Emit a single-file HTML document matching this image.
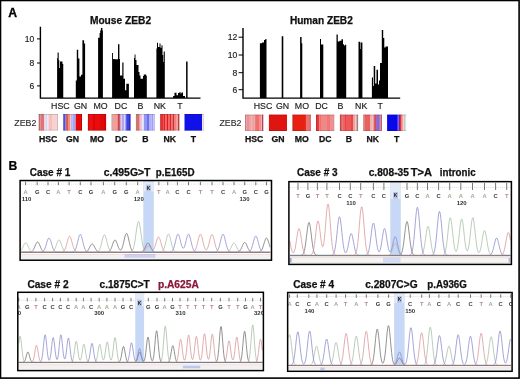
<!DOCTYPE html>
<html><head><meta charset="utf-8"><style>
html,body{margin:0;padding:0;background:#fff;}
svg{display:block;font-family:"Liberation Sans", sans-serif;will-change:transform;}
</style></head><body>
<svg width="520" height="379" viewBox="0 0 520 379">
<rect width="520" height="379" fill="#fff"/>
<text x="8.3" y="17.2" font-size="12.2" font-weight="bold" fill="#000" text-anchor="start" stroke="#000" stroke-width="0.3">A</text>
<text x="89.9" y="23.7" font-size="10" font-weight="bold" fill="#111" stroke="#111" stroke-width="0.25" textLength="61.2" lengthAdjust="spacingAndGlyphs">Mouse ZEB2</text>
<path d="M57.1 98.1V58.1H57.6V98.1ZM57.6 98.1V52.4H58.7V98.1ZM58.7 98.1V60.3H59.3V98.1ZM59.3 98.1V68H60.0V98.1ZM60.0 98.1V61.5H62.5V98.1ZM62.5 98.1V63.9H63.25V98.1ZM75.8 98.1V80.6H76.8V98.1ZM76.8 98.1V49.8H78.2V98.1ZM78.2 98.1V58.5H79.4V98.1ZM79.4 98.1V76.4H81V98.1ZM81 98.1V74.7H82.4V98.1ZM82.4 98.1V40.2H84.1V98.1ZM84.1 98.1V43.5H85.1V98.1ZM98.1 98.1V37.8H99.6V98.1ZM99.6 98.1V33H100.2V98.1ZM100.2 98.1V30.5H100.9V98.1ZM100.9 98.1V28.1H102.4V98.1ZM102.4 98.1V30.5H102.9V98.1ZM112.1 98.1V53H113V98.1ZM113 98.1V59H114.5V98.1ZM114.5 98.1V59.2H118V98.1ZM118 98.1V44.2H119.4V98.1ZM119.4 98.1V59H120V98.1ZM120 98.1V75.6H122.3V98.1ZM122.3 98.1V62.5H123.5V98.1ZM123.5 98.1V78.8H125V98.1ZM125 98.1V90.2H126.3V98.1ZM126.3 98.1V83.7H128.9V98.1ZM134 98.1V58H134.6V98.1ZM134.6 98.1V54.6H135.5V98.1ZM135.5 98.1V60H136.5V98.1ZM136.5 98.1V65H138.5V98.1ZM138.5 98.1V72H139.5V98.1ZM139.5 98.1V75.4H140.5V98.1ZM140.5 98.1V78.8H143V98.1ZM143 98.1V76H143.8V98.1ZM143.8 98.1V74.5H146.3V98.1ZM146.3 98.1V76H146.8V98.1ZM156.4 98.1V48.6H157V98.1ZM157 98.1V42.7H158V98.1ZM158 98.1V47H159.5V98.1ZM159.5 98.1V43.6H160.5V98.1ZM160.5 98.1V47.8H161.5V98.1ZM161.5 98.1V45.3H162.5V98.1ZM162.5 98.1V55H163.2V98.1ZM163.2 98.1V62H163.7V98.1ZM163.7 98.1V51.5H164.8V98.1ZM173.1 98.1V95.9H174.5V98.1ZM174.5 98.1V92.7H176.5V98.1ZM176.5 98.1V95.3H178V98.1ZM178 98.1V93H179.5V98.1ZM179.5 98.1V92H180.5V98.1ZM180.5 98.1V93.6H181.5V98.1ZM181.5 98.1V92.4H183V98.1ZM183 98.1V95.9H185V98.1ZM186.1 98.1V61.5H187.6V98.1Z" fill="#000"/>
<path d="M40.4 26.7V98.1H200.5" fill="none" stroke="#000" stroke-width="1.4"/>
<path d="M37 38.9H40.4" stroke="#000" stroke-width="1"/>
<text x="34.4" y="41.9" font-size="8.6" font-weight="normal" fill="#222" text-anchor="end" stroke="#222" stroke-width="0.15">10</text>
<path d="M37 63H40.4" stroke="#000" stroke-width="1"/>
<text x="34.4" y="66.0" font-size="8.6" font-weight="normal" fill="#222" text-anchor="end" stroke="#222" stroke-width="0.15">8</text>
<path d="M37 85.9H40.4" stroke="#000" stroke-width="1"/>
<text x="34.4" y="88.9" font-size="8.6" font-weight="normal" fill="#222" text-anchor="end" stroke="#222" stroke-width="0.15">6</text>
<text x="60.4" y="109.0" font-size="8.8" font-weight="normal" fill="#1a1a1a" text-anchor="middle" stroke="#1a1a1a" stroke-width="0.15">HSC</text>
<text x="80.5" y="109.0" font-size="8.8" font-weight="normal" fill="#1a1a1a" text-anchor="middle" stroke="#1a1a1a" stroke-width="0.15">GN</text>
<text x="100.6" y="109.0" font-size="8.8" font-weight="normal" fill="#1a1a1a" text-anchor="middle" stroke="#1a1a1a" stroke-width="0.15">MO</text>
<text x="120.9" y="109.0" font-size="8.8" font-weight="normal" fill="#1a1a1a" text-anchor="middle" stroke="#1a1a1a" stroke-width="0.15">DC</text>
<text x="140.5" y="109.0" font-size="8.8" font-weight="normal" fill="#1a1a1a" text-anchor="middle" stroke="#1a1a1a" stroke-width="0.15">B</text>
<text x="159.8" y="109.0" font-size="8.8" font-weight="normal" fill="#1a1a1a" text-anchor="middle" stroke="#1a1a1a" stroke-width="0.15">NK</text>
<text x="180" y="109.0" font-size="8.8" font-weight="normal" fill="#1a1a1a" text-anchor="middle" stroke="#1a1a1a" stroke-width="0.15">T</text>
<text x="289.9" y="23.8" font-size="10" font-weight="bold" fill="#111" stroke="#111" stroke-width="0.25" textLength="62.9" lengthAdjust="spacingAndGlyphs">Human ZEB2</text>
<path d="M259.9 98.1V43.2H262V98.1ZM262 98.1V42.4H264V98.1ZM264 98.1V39.9H265.3V98.1ZM265.3 98.1V38.9H266.5V98.1ZM281.7 98.1V36.3H283.3V98.1ZM300.1 98.1V36.9H301.6V98.1ZM301.6 98.1V43.2H302.3V98.1ZM320 98.1V38.9H321V98.1ZM321 98.1V44.4H323.3V98.1ZM336.5 98.1V34.6H337.8V98.1ZM337.8 98.1V41.4H339.5V98.1ZM339.5 98.1V40.7H341.5V98.1ZM341.5 98.1V39.2H343V98.1ZM343 98.1V44.3H344V98.1ZM344 98.1V45.6H345V98.1ZM345 98.1V44.7H346.2V98.1ZM358.5 98.1V41.8H360.2V98.1ZM360.2 98.1V49H360.7V98.1ZM360.7 98.1V42.5H362.4V98.1ZM371.9 98.1V77.6H373V98.1ZM373 98.1V86H373.7V98.1ZM373.7 98.1V65.9H375.2V98.1ZM375.2 98.1V83.4H376.5V98.1ZM376.5 98.1V69.8H378V98.1ZM378 98.1V84.4H379V98.1ZM379 98.1V80.5H380V98.1ZM380 98.1V63H381.8V98.1ZM381.8 98.1V29.9H383.2V98.1ZM383.2 98.1V38H384.3V98.1ZM384.3 98.1V47.4H385.5V98.1ZM385.5 98.1V46.4H388V98.1Z" fill="#000"/>
<path d="M243 28V98.1H400.2" fill="none" stroke="#000" stroke-width="1.4"/>
<path d="M238.6 37.2H243" stroke="#000" stroke-width="1"/>
<text x="237.2" y="40.2" font-size="8.6" font-weight="normal" fill="#222" text-anchor="end" stroke="#222" stroke-width="0.15">12</text>
<path d="M238.6 55H243" stroke="#000" stroke-width="1"/>
<text x="237.2" y="58.0" font-size="8.6" font-weight="normal" fill="#222" text-anchor="end" stroke="#222" stroke-width="0.15">10</text>
<path d="M238.6 72.7H243" stroke="#000" stroke-width="1"/>
<text x="237.2" y="75.7" font-size="8.6" font-weight="normal" fill="#222" text-anchor="end" stroke="#222" stroke-width="0.15">8</text>
<path d="M238.6 89.7H243" stroke="#000" stroke-width="1"/>
<text x="237.2" y="92.7" font-size="8.6" font-weight="normal" fill="#222" text-anchor="end" stroke="#222" stroke-width="0.15">6</text>
<text x="263" y="109.0" font-size="8.8" font-weight="normal" fill="#1a1a1a" text-anchor="middle" stroke="#1a1a1a" stroke-width="0.15">HSC</text>
<text x="282.5" y="109.0" font-size="8.8" font-weight="normal" fill="#1a1a1a" text-anchor="middle" stroke="#1a1a1a" stroke-width="0.15">GN</text>
<text x="301.9" y="109.0" font-size="8.8" font-weight="normal" fill="#1a1a1a" text-anchor="middle" stroke="#1a1a1a" stroke-width="0.15">MO</text>
<text x="321.5" y="109.0" font-size="8.8" font-weight="normal" fill="#1a1a1a" text-anchor="middle" stroke="#1a1a1a" stroke-width="0.15">DC</text>
<text x="340.5" y="109.0" font-size="8.8" font-weight="normal" fill="#1a1a1a" text-anchor="middle" stroke="#1a1a1a" stroke-width="0.15">B</text>
<text x="361.2" y="109.0" font-size="8.8" font-weight="normal" fill="#1a1a1a" text-anchor="middle" stroke="#1a1a1a" stroke-width="0.15">NK</text>
<text x="380.3" y="109.0" font-size="8.8" font-weight="normal" fill="#1a1a1a" text-anchor="middle" stroke="#1a1a1a" stroke-width="0.15">T</text>
<text x="14.3" y="125.7" font-size="8.8" font-weight="normal" fill="#2a2a2a" text-anchor="start" stroke="#2a2a2a" stroke-width="0.12">ZEB2</text>
<text x="219.5" y="126.0" font-size="8.8" font-weight="normal" fill="#2a2a2a" text-anchor="start" stroke="#2a2a2a" stroke-width="0.12">ZEB2</text>
<rect x="38.7" y="114.0" width="1.80" height="16.60" fill="#b86878"/>
<rect x="40.5" y="114.0" width="3.50" height="16.60" fill="#e07474"/>
<rect x="44" y="114.0" width="1.50" height="16.60" fill="#f4d0d8"/>
<rect x="45.5" y="114.0" width="2.00" height="16.60" fill="#d4d4f8"/>
<rect x="47.5" y="114.0" width="1.00" height="16.60" fill="#f2e8f0"/>
<rect x="48.5" y="114.0" width="3.50" height="16.60" fill="#f4c0c0"/>
<rect x="52" y="114.0" width="5.00" height="16.60" fill="#f8d2d0"/>
<rect x="57" y="114.0" width="0.80" height="16.60" fill="#c8a8a8"/>
<rect x="38.7" y="114.0" width="19.10" height="1" fill="#000" opacity="0.13"/>
<rect x="38.7" y="129.6" width="19.10" height="1" fill="#000" opacity="0.1"/>
<rect x="63.2" y="114.0" width="2.30" height="16.60" fill="#5050d8"/>
<rect x="65.5" y="114.0" width="0.50" height="16.60" fill="#9060a8"/>
<rect x="66" y="114.0" width="2.00" height="16.60" fill="#d06060"/>
<rect x="68" y="114.0" width="2.00" height="16.60" fill="#f09080"/>
<rect x="70" y="114.0" width="1.00" height="16.60" fill="#f8c8c8"/>
<rect x="71" y="114.0" width="1.50" height="16.60" fill="#c0b0f0"/>
<rect x="72.5" y="114.0" width="3.00" height="16.60" fill="#a0a8f8"/>
<rect x="75.5" y="114.0" width="0.50" height="16.60" fill="#d04050"/>
<rect x="76" y="114.0" width="5.00" height="16.60" fill="#e80808"/>
<rect x="81" y="114.0" width="1.00" height="16.60" fill="#c80000"/>
<rect x="63.2" y="114.0" width="18.80" height="1" fill="#000" opacity="0.13"/>
<rect x="63.2" y="129.6" width="18.80" height="1" fill="#000" opacity="0.1"/>
<rect x="87.9" y="114.0" width="1.10" height="16.60" fill="#d00808"/>
<rect x="89" y="114.0" width="4.00" height="16.60" fill="#e81010"/>
<rect x="93" y="114.0" width="2.00" height="16.60" fill="#e00404"/>
<rect x="95" y="114.0" width="5.00" height="16.60" fill="#e80c0c"/>
<rect x="100" y="114.0" width="4.00" height="16.60" fill="#e00808"/>
<rect x="104" y="114.0" width="2.10" height="16.60" fill="#d80404"/>
<rect x="87.9" y="114.0" width="18.20" height="1" fill="#000" opacity="0.13"/>
<rect x="87.9" y="129.6" width="18.20" height="1" fill="#000" opacity="0.1"/>
<rect x="111.7" y="114.0" width="0.80" height="16.60" fill="#a05060"/>
<rect x="112.5" y="114.0" width="4.50" height="16.60" fill="#f0a098"/>
<rect x="117" y="114.0" width="1.00" height="16.60" fill="#f08888"/>
<rect x="118" y="114.0" width="1.50" height="16.60" fill="#d84050"/>
<rect x="119.5" y="114.0" width="1.00" height="16.60" fill="#a02030"/>
<rect x="120.5" y="114.0" width="1.50" height="16.60" fill="#d8c8f4"/>
<rect x="122" y="114.0" width="2.00" height="16.60" fill="#b0a8f0"/>
<rect x="124" y="114.0" width="1.50" height="16.60" fill="#d8d8f8"/>
<rect x="125.5" y="114.0" width="1.50" height="16.60" fill="#6060f0"/>
<rect x="127" y="114.0" width="2.00" height="16.60" fill="#4040e8"/>
<rect x="129" y="114.0" width="1.60" height="16.60" fill="#3030c0"/>
<rect x="111.7" y="114.0" width="18.90" height="1" fill="#000" opacity="0.13"/>
<rect x="111.7" y="129.6" width="18.90" height="1" fill="#000" opacity="0.1"/>
<rect x="135.9" y="114.0" width="3.10" height="16.60" fill="#c87870"/>
<rect x="139" y="114.0" width="1.00" height="16.60" fill="#f0a090"/>
<rect x="140" y="114.0" width="2.00" height="16.60" fill="#f0c0e0"/>
<rect x="142" y="114.0" width="1.50" height="16.60" fill="#f0e8f8"/>
<rect x="143.5" y="114.0" width="0.50" height="16.60" fill="#c8c8f4"/>
<rect x="144" y="114.0" width="3.00" height="16.60" fill="#9098f0"/>
<rect x="147" y="114.0" width="2.00" height="16.60" fill="#7070f0"/>
<rect x="149" y="114.0" width="2.50" height="16.60" fill="#b0b0f8"/>
<rect x="151.5" y="114.0" width="2.00" height="16.60" fill="#a0a0f0"/>
<rect x="153.5" y="114.0" width="1.50" height="16.60" fill="#c0c0f8"/>
<rect x="135.9" y="114.0" width="19.10" height="1" fill="#000" opacity="0.13"/>
<rect x="135.9" y="129.6" width="19.10" height="1" fill="#000" opacity="0.1"/>
<rect x="160.2" y="114.0" width="0.80" height="16.60" fill="#c02020"/>
<rect x="161" y="114.0" width="2.00" height="16.60" fill="#e83030"/>
<rect x="163" y="114.0" width="1.00" height="16.60" fill="#f05050"/>
<rect x="164" y="114.0" width="1.50" height="16.60" fill="#e02020"/>
<rect x="165.5" y="114.0" width="1.00" height="16.60" fill="#f05050"/>
<rect x="166.5" y="114.0" width="2.00" height="16.60" fill="#e81818"/>
<rect x="168.5" y="114.0" width="1.00" height="16.60" fill="#f04848"/>
<rect x="169.5" y="114.0" width="2.00" height="16.60" fill="#e02828"/>
<rect x="171.5" y="114.0" width="1.00" height="16.60" fill="#f06060"/>
<rect x="172.5" y="114.0" width="1.50" height="16.60" fill="#d03030"/>
<rect x="174" y="114.0" width="2.00" height="16.60" fill="#f08080"/>
<rect x="176" y="114.0" width="2.00" height="16.60" fill="#f0a0a0"/>
<rect x="178" y="114.0" width="1.40" height="16.60" fill="#c04040"/>
<rect x="160.2" y="114.0" width="19.20" height="1" fill="#000" opacity="0.13"/>
<rect x="160.2" y="129.6" width="19.20" height="1" fill="#000" opacity="0.1"/>
<rect x="184.5" y="114.0" width="17.60" height="16.60" fill="#1010e8"/>
<rect x="203.0" y="114.0" width="0.80" height="16.60" fill="#e8c8b8"/>
<rect x="184.5" y="114.0" width="19.30" height="1" fill="#000" opacity="0.13"/>
<rect x="184.5" y="129.6" width="19.30" height="1" fill="#000" opacity="0.1"/>
<rect x="245.1" y="114.6" width="1.40" height="16.40" fill="#c07080"/>
<rect x="246.5" y="114.6" width="2.50" height="16.40" fill="#f09090"/>
<rect x="249" y="114.6" width="1.50" height="16.40" fill="#f0a0a0"/>
<rect x="250.5" y="114.6" width="1.00" height="16.40" fill="#e08080"/>
<rect x="251.5" y="114.6" width="1.50" height="16.40" fill="#f0a8a0"/>
<rect x="253" y="114.6" width="1.50" height="16.40" fill="#f0a0a0"/>
<rect x="254.5" y="114.6" width="1.50" height="16.40" fill="#e88080"/>
<rect x="256" y="114.6" width="3.00" height="16.40" fill="#f07070"/>
<rect x="259" y="114.6" width="2.00" height="16.40" fill="#f09090"/>
<rect x="261" y="114.6" width="1.00" height="16.40" fill="#f0b0b0"/>
<rect x="262" y="114.6" width="1.30" height="16.40" fill="#b04060"/>
<rect x="245.1" y="114.6" width="18.20" height="1" fill="#000" opacity="0.13"/>
<rect x="245.1" y="130.0" width="18.20" height="1" fill="#000" opacity="0.1"/>
<rect x="268.9" y="114.6" width="18.10" height="16.40" fill="#e01410"/>
<rect x="268.9" y="114.6" width="18.10" height="1" fill="#000" opacity="0.13"/>
<rect x="268.9" y="130.0" width="18.10" height="1" fill="#000" opacity="0.1"/>
<rect x="292.4" y="114.6" width="1.60" height="16.40" fill="#d02020"/>
<rect x="294" y="114.6" width="11.00" height="16.40" fill="#e82010"/>
<rect x="305" y="114.6" width="1.00" height="16.40" fill="#e03030"/>
<rect x="306" y="114.6" width="3.00" height="16.40" fill="#f07070"/>
<rect x="309" y="114.6" width="2.00" height="16.40" fill="#e07070"/>
<rect x="292.4" y="114.6" width="18.60" height="1" fill="#000" opacity="0.13"/>
<rect x="292.4" y="130.0" width="18.60" height="1" fill="#000" opacity="0.1"/>
<rect x="316" y="114.6" width="1.00" height="16.40" fill="#c03030"/>
<rect x="317" y="114.6" width="2.50" height="16.40" fill="#e83838"/>
<rect x="319.5" y="114.6" width="1.50" height="16.40" fill="#f07070"/>
<rect x="321" y="114.6" width="6.00" height="16.40" fill="#f08888"/>
<rect x="327" y="114.6" width="3.00" height="16.40" fill="#f07878"/>
<rect x="330" y="114.6" width="3.00" height="16.40" fill="#f09090"/>
<rect x="333" y="114.6" width="1.30" height="16.40" fill="#e09090"/>
<rect x="316" y="114.6" width="18.30" height="1" fill="#000" opacity="0.13"/>
<rect x="316" y="130.0" width="18.30" height="1" fill="#000" opacity="0.1"/>
<rect x="339.9" y="114.6" width="1.60" height="16.40" fill="#d84040"/>
<rect x="341.5" y="114.6" width="1.00" height="16.40" fill="#b83030"/>
<rect x="342.5" y="114.6" width="2.50" height="16.40" fill="#f06060"/>
<rect x="345" y="114.6" width="1.00" height="16.40" fill="#e04848"/>
<rect x="346" y="114.6" width="5.00" height="16.40" fill="#f05858"/>
<rect x="351" y="114.6" width="2.00" height="16.40" fill="#e84848"/>
<rect x="353" y="114.6" width="2.00" height="16.40" fill="#f0a0a0"/>
<rect x="355" y="114.6" width="1.50" height="16.40" fill="#f8c8c8"/>
<rect x="356.5" y="114.6" width="1.60" height="16.40" fill="#a08080"/>
<rect x="339.9" y="114.6" width="18.20" height="1" fill="#000" opacity="0.13"/>
<rect x="339.9" y="130.0" width="18.20" height="1" fill="#000" opacity="0.1"/>
<rect x="363.4" y="114.6" width="1.10" height="16.40" fill="#b05050"/>
<rect x="364.5" y="114.6" width="5.50" height="16.40" fill="#e86060"/>
<rect x="370" y="114.6" width="2.00" height="16.40" fill="#f0b0b0"/>
<rect x="372" y="114.6" width="1.50" height="16.40" fill="#f0c0c0"/>
<rect x="373.5" y="114.6" width="1.50" height="16.40" fill="#d06070"/>
<rect x="375" y="114.6" width="1.00" height="16.40" fill="#d05050"/>
<rect x="376" y="114.6" width="1.00" height="16.40" fill="#c060a0"/>
<rect x="377" y="114.6" width="2.00" height="16.40" fill="#7070f0"/>
<rect x="379" y="114.6" width="1.50" height="16.40" fill="#d070a0"/>
<rect x="380.5" y="114.6" width="1.50" height="16.40" fill="#c06070"/>
<rect x="363.4" y="114.6" width="18.60" height="1" fill="#000" opacity="0.13"/>
<rect x="363.4" y="130.0" width="18.60" height="1" fill="#000" opacity="0.1"/>
<rect x="387.1" y="114.6" width="9.90" height="16.40" fill="#0808e8"/>
<rect x="397" y="114.6" width="1.50" height="16.40" fill="#4040f0"/>
<rect x="398.5" y="114.6" width="1.50" height="16.40" fill="#8020a0"/>
<rect x="400" y="114.6" width="1.50" height="16.40" fill="#e03030"/>
<rect x="401.5" y="114.6" width="1.00" height="16.40" fill="#f07070"/>
<rect x="402.5" y="114.6" width="1.00" height="16.40" fill="#e090a0"/>
<rect x="403.5" y="114.6" width="1.00" height="16.40" fill="#f0e0e8"/>
<rect x="404.5" y="114.6" width="1.00" height="16.40" fill="#a0a0a0"/>
<rect x="405.5" y="114.6" width="0.90" height="16.40" fill="#f0f0f0"/>
<rect x="387.1" y="114.6" width="19.30" height="1" fill="#000" opacity="0.13"/>
<rect x="387.1" y="130.0" width="19.30" height="1" fill="#000" opacity="0.1"/>
<text x="48.2" y="141.6" font-size="8.7" font-weight="bold" fill="#111" text-anchor="middle" stroke="#111" stroke-width="0.25">HSC</text>
<text x="72.6" y="141.6" font-size="8.7" font-weight="bold" fill="#111" text-anchor="middle" stroke="#111" stroke-width="0.25">GN</text>
<text x="97" y="141.6" font-size="8.7" font-weight="bold" fill="#111" text-anchor="middle" stroke="#111" stroke-width="0.25">MO</text>
<text x="121.3" y="141.6" font-size="8.7" font-weight="bold" fill="#111" text-anchor="middle" stroke="#111" stroke-width="0.25">DC</text>
<text x="145.4" y="141.6" font-size="8.7" font-weight="bold" fill="#111" text-anchor="middle" stroke="#111" stroke-width="0.25">B</text>
<text x="169.8" y="141.6" font-size="8.7" font-weight="bold" fill="#111" text-anchor="middle" stroke="#111" stroke-width="0.25">NK</text>
<text x="193.3" y="141.6" font-size="8.7" font-weight="bold" fill="#111" text-anchor="middle" stroke="#111" stroke-width="0.25">T</text>
<text x="254.2" y="141.6" font-size="8.7" font-weight="bold" fill="#111" text-anchor="middle" stroke="#111" stroke-width="0.25">HSC</text>
<text x="278" y="141.6" font-size="8.7" font-weight="bold" fill="#111" text-anchor="middle" stroke="#111" stroke-width="0.25">GN</text>
<text x="301.7" y="141.6" font-size="8.7" font-weight="bold" fill="#111" text-anchor="middle" stroke="#111" stroke-width="0.25">MO</text>
<text x="325.2" y="141.6" font-size="8.7" font-weight="bold" fill="#111" text-anchor="middle" stroke="#111" stroke-width="0.25">DC</text>
<text x="349" y="141.6" font-size="8.7" font-weight="bold" fill="#111" text-anchor="middle" stroke="#111" stroke-width="0.25">B</text>
<text x="372.7" y="141.6" font-size="8.7" font-weight="bold" fill="#111" text-anchor="middle" stroke="#111" stroke-width="0.25">NK</text>
<text x="396.7" y="141.6" font-size="8.7" font-weight="bold" fill="#111" text-anchor="middle" stroke="#111" stroke-width="0.25">T</text>
<text x="8.6" y="170.2" font-size="12.2" font-weight="bold" fill="#000" text-anchor="start" stroke="#000" stroke-width="0.2">B</text>
<text x="29.7" y="175.9" font-size="10" font-weight="bold" fill="#111" stroke="#111" stroke-width="0.25" textLength="40.6" lengthAdjust="spacingAndGlyphs">Case # 1</text>
<text x="103.8" y="175.6" font-size="10" font-weight="bold" fill="#111" stroke="#111" stroke-width="0.25" textLength="46.7" lengthAdjust="spacingAndGlyphs">c.495G&gt;T</text>
<text x="155.8" y="175.6" font-size="10" font-weight="bold" fill="#111" stroke="#111" stroke-width="0.25" textLength="38.7" lengthAdjust="spacingAndGlyphs">p.E165D</text>
<clipPath id="c1"><rect x="20.1" y="180.55" width="251.4" height="79.64999999999998"/></clipPath><g clip-path="url(#c1)">
<rect x="143.3" y="180.55" width="10.5" height="72.14999999999998" fill="#c6d8f6"/>
<path d="M21.1 184.1H270.5" stroke="#c4c8c4" stroke-width="0.6" stroke-dasharray="1 1"/>
<path d="M25.6 181.8V185.3M37.2 181.8V185.3M48 181.8V185.3M58.4 181.8V185.3M69.1 181.8V185.3M80.3 181.8V185.3M91 181.8V185.3M103.4 181.8V185.3M114.7 181.8V185.3M126.3 181.8V185.3M137.7 181.8V185.3M158.8 181.8V185.3M167.7 181.8V185.3M177.4 181.8V185.3M188.5 181.8V185.3M200.4 181.8V185.3M212 181.8V185.3M223 181.8V185.3M234 181.8V185.3M244.7 181.8V185.3M255.8 181.8V185.3M266.5 181.8V185.3" stroke="#686868" stroke-width="0.9"/>
<text x="25.6" y="194.0" font-size="5.8" font-weight="bold" fill="#a2aa92" text-anchor="middle" >A</text>
<text x="37.2" y="194.0" font-size="5.8" font-weight="bold" fill="#303030" text-anchor="middle" >G</text>
<text x="48" y="194.0" font-size="5.8" font-weight="bold" fill="#404040" text-anchor="middle" >C</text>
<text x="58.4" y="194.0" font-size="5.8" font-weight="bold" fill="#a2aa92" text-anchor="middle" >A</text>
<text x="69.1" y="194.0" font-size="5.8" font-weight="bold" fill="#b88888" text-anchor="middle" >T</text>
<text x="80.3" y="194.0" font-size="5.8" font-weight="bold" fill="#404040" text-anchor="middle" >C</text>
<text x="91" y="194.0" font-size="5.8" font-weight="bold" fill="#303030" text-anchor="middle" >G</text>
<text x="103.4" y="194.0" font-size="5.8" font-weight="bold" fill="#a2aa92" text-anchor="middle" >A</text>
<text x="114.7" y="194.0" font-size="5.8" font-weight="bold" fill="#303030" text-anchor="middle" >G</text>
<text x="126.3" y="194.0" font-size="5.8" font-weight="bold" fill="#303030" text-anchor="middle" >G</text>
<text x="137.7" y="194.0" font-size="5.8" font-weight="bold" fill="#a2aa92" text-anchor="middle" >A</text>
<rect x="143.3" y="180.55" width="10.5" height="10.949999999999989" fill="#e2eaf8"/>
<rect x="146.1" y="184.6" width="4.8" height="6.8" fill="#b8c4e2"/>
<text x="148.5" y="189.8" font-size="5" font-weight="bold" fill="#223" text-anchor="middle" >K</text>
<text x="158.8" y="194.0" font-size="5.8" font-weight="bold" fill="#b88888" text-anchor="middle" >T</text>
<text x="167.7" y="194.0" font-size="5.8" font-weight="bold" fill="#a2aa92" text-anchor="middle" >A</text>
<text x="177.4" y="194.0" font-size="5.8" font-weight="bold" fill="#404040" text-anchor="middle" >C</text>
<text x="188.5" y="194.0" font-size="5.8" font-weight="bold" fill="#404040" text-anchor="middle" >C</text>
<text x="200.4" y="194.0" font-size="5.8" font-weight="bold" fill="#b88888" text-anchor="middle" >T</text>
<text x="212" y="194.0" font-size="5.8" font-weight="bold" fill="#b88888" text-anchor="middle" >T</text>
<text x="223" y="194.0" font-size="5.8" font-weight="bold" fill="#404040" text-anchor="middle" >C</text>
<text x="234" y="194.0" font-size="5.8" font-weight="bold" fill="#a2aa92" text-anchor="middle" >A</text>
<text x="244.7" y="194.0" font-size="5.8" font-weight="bold" fill="#303030" text-anchor="middle" >G</text>
<text x="255.8" y="194.0" font-size="5.8" font-weight="bold" fill="#404040" text-anchor="middle" >C</text>
<text x="266.5" y="194.0" font-size="5.8" font-weight="bold" fill="#303030" text-anchor="middle" >G</text>
<text x="26.5" y="201.3" font-size="6" font-weight="bold" fill="#333" text-anchor="middle" >110</text>
<text x="138.8" y="201.3" font-size="6" font-weight="bold" fill="#333" text-anchor="middle" >120</text>
<text x="244.5" y="201.3" font-size="6" font-weight="bold" fill="#333" text-anchor="middle" >130</text>
<rect x="21.1" y="254.79999999999998" width="249.4" height="4.2" fill="#f3f1f1"/>
<rect x="124.4" y="254.2" width="30.900000000000006" height="3.6" fill="#ccd2f2"/>
<rect x="124.4" y="254.2" width="30.900000000000006" height="0.7" fill="#9aa4dc"/>
<path d="M21.1 252.2L21.6 252.2L22.1 252.2L22.6 252.2L23.1 252.2L23.6 252.2L24.1 252.2L24.6 252.2L25.1 252.2L25.6 252.2L26.1 252.2L26.6 252.2L27.1 252.2L27.6 252.2L28.1 252.2L28.6 252.2L29.1 252.2L29.6 252.1L30.1 252.1L30.6 252.0L31.1 251.9L31.6 251.6L32.1 251.3L32.6 250.8L33.1 250.2L33.6 249.4L34.1 248.4L34.6 247.2L35.1 246.0L35.6 244.8L36.1 243.7L36.6 242.8L37.1 242.2L37.6 242.0L38.1 242.2L38.6 242.8L39.1 243.7L39.6 244.8L40.1 246.0L40.6 247.2L41.1 248.4L41.6 249.4L42.1 250.2L42.6 250.8L43.1 251.3L43.6 251.6L44.1 251.9L44.6 252.0L45.1 252.1L45.6 252.1L46.1 252.2L46.6 252.2L47.1 252.2L47.6 252.2L48.1 252.2L48.6 252.2L49.1 252.2L49.6 252.2L50.1 252.2L50.6 252.2L51.1 252.2L51.6 252.2L52.1 252.2L52.6 252.2L53.1 252.2L53.6 252.2L54.1 252.2L54.6 252.2L55.1 252.2L55.6 252.2L56.1 252.2L56.6 252.2L57.1 252.2L57.6 252.2L58.1 252.2L58.6 252.2L59.1 252.2L59.6 252.2L60.1 252.2L60.6 252.2L61.1 252.2L61.6 252.2L62.1 252.2L62.6 252.2L63.1 252.2L63.6 252.2L64.1 252.2L64.6 252.2L65.1 252.2L65.6 252.2L66.1 252.2L66.6 252.2L67.1 252.2L67.6 252.2L68.1 252.2L68.6 252.2L69.1 252.2L69.6 252.2L70.1 252.2L70.6 252.2L71.1 252.2L71.6 252.2L72.1 252.2L72.6 252.2L73.1 252.2L73.6 252.2L74.1 252.2L74.6 252.2L75.1 252.2L75.6 252.2L76.1 252.2L76.6 252.2L77.1 252.2L77.6 252.2L78.1 252.2L78.6 252.2L79.1 252.2L79.6 252.2L80.1 252.2L80.6 252.2L81.1 252.2L81.6 252.2L82.1 252.2L82.6 252.2L83.1 252.2L83.6 252.2L84.1 252.2L84.6 252.1L85.1 252.1L85.6 251.9L86.1 251.8L86.6 251.5L87.1 251.2L87.6 250.7L88.1 250.0L88.6 249.3L89.1 248.4L89.6 247.4L90.1 246.4L90.6 245.4L91.1 244.7L91.6 244.1L92.1 243.9L92.6 244.0L93.1 244.4L93.6 245.1L94.1 246.0L94.6 247.0L95.1 248.0L95.6 248.9L96.1 249.7L96.6 250.4L97.1 251.0L97.6 251.4L98.1 251.7L98.6 251.9L99.1 252.0L99.6 252.1L100.1 252.1L100.6 252.2L101.1 252.2L101.6 252.2L102.1 252.2L102.6 252.2L103.1 252.2L103.6 252.2L104.1 252.2L104.6 252.2L105.1 252.2L105.6 252.2L106.1 252.2L106.6 252.2L107.1 252.1L107.6 252.0L108.1 251.9L108.6 251.7L109.1 251.4L109.6 251.0L110.1 250.4L110.6 249.6L111.1 248.6L111.6 247.4L112.1 246.0L112.6 244.5L113.1 243.1L113.6 241.8L114.1 240.8L114.6 240.2L115.1 240.0L115.6 240.3L116.1 241.1L116.6 242.3L117.1 243.6L117.6 245.1L118.1 246.5L118.6 247.7L119.1 248.8L119.6 249.5L120.1 250.0L120.6 250.0L121.1 249.8L121.6 249.1L122.1 248.0L122.6 246.5L123.1 244.7L123.6 242.6L124.1 240.3L124.6 238.1L125.1 236.1L125.6 234.6L126.1 233.6L126.6 233.4L127.1 233.9L127.6 235.1L128.1 236.9L128.6 239.0L129.1 241.3L129.6 243.5L130.1 245.5L130.6 247.3L131.1 248.7L131.6 249.9L132.1 250.7L132.6 251.2L133.1 251.6L133.6 251.9L134.1 252.0L134.6 252.1L135.1 252.1L135.6 252.2L136.1 252.2L136.6 252.2L137.1 252.2L137.6 252.2L138.1 252.2L138.6 252.2L139.1 252.2L139.6 252.2L140.1 252.1L140.6 252.1L141.1 252.0L141.6 251.9L142.1 251.6L142.6 251.3L143.1 250.9L143.6 250.2L144.1 249.5L144.6 248.6L145.1 247.5L145.6 246.4L146.1 245.3L146.6 244.3L147.1 243.6L147.6 243.1L148.1 243.0L148.6 243.3L149.1 243.8L149.6 244.7L150.1 245.7L150.6 246.8L151.1 247.9L151.6 248.9L152.1 249.8L152.6 250.5L153.1 251.1L153.6 251.5L154.1 251.7L154.6 251.9L155.1 252.0L155.6 252.1L156.1 252.2L156.6 252.2L157.1 252.2L157.6 252.2L158.1 252.2L158.6 252.2L159.1 252.2L159.6 252.2L160.1 252.2L160.6 252.2L161.1 252.2L161.6 252.2L162.1 252.2L162.6 252.2L163.1 252.2L163.6 252.2L164.1 252.2L164.6 252.2L165.1 252.2L165.6 252.2L166.1 252.2L166.6 252.2L167.1 252.2L167.6 252.2L168.1 252.2L168.6 252.2L169.1 252.2L169.6 252.2L170.1 252.2L170.6 252.2L171.1 252.2L171.6 252.2L172.1 252.2L172.6 252.2L173.1 252.2L173.6 252.2L174.1 252.2L174.6 252.2L175.1 252.2L175.6 252.2L176.1 252.2L176.6 252.2L177.1 252.2L177.6 252.2L178.1 252.2L178.6 252.2L179.1 252.2L179.6 252.2L180.1 252.2L180.6 252.2L181.1 252.2L181.6 252.2L182.1 252.2L182.6 252.2L183.1 252.2L183.6 252.2L184.1 252.2L184.6 252.2L185.1 252.2L185.6 252.2L186.1 252.2L186.6 252.2L187.1 252.2L187.6 252.2L188.1 252.2L188.6 252.2L189.1 252.2L189.6 252.2L190.1 252.2L190.6 252.2L191.1 252.2L191.6 252.2L192.1 252.2L192.6 252.2L193.1 252.2L193.6 252.2L194.1 252.2L194.6 252.2L195.1 252.2L195.6 252.2L196.1 252.2L196.6 252.2L197.1 252.2L197.6 252.2L198.1 252.2L198.6 252.2L199.1 252.2L199.6 252.2L200.1 252.2L200.6 252.2L201.1 252.2L201.6 252.2L202.1 252.2L202.6 252.2L203.1 252.2L203.6 252.2L204.1 252.2L204.6 252.2L205.1 252.2L205.6 252.2L206.1 252.2L206.6 252.2L207.1 252.2L207.6 252.2L208.1 252.2L208.6 252.2L209.1 252.2L209.6 252.2L210.1 252.2L210.6 252.2L211.1 252.2L211.6 252.2L212.1 252.2L212.6 252.2L213.1 252.2L213.6 252.2L214.1 252.2L214.6 252.2L215.1 252.2L215.6 252.2L216.1 252.2L216.6 252.2L217.1 252.2L217.6 252.2L218.1 252.2L218.6 252.2L219.1 252.2L219.6 252.2L220.1 252.2L220.6 252.2L221.1 252.2L221.6 252.2L222.1 252.2L222.6 252.2L223.1 252.2L223.6 252.2L224.1 252.2L224.6 252.2L225.1 252.2L225.6 252.2L226.1 252.2L226.6 252.2L227.1 252.2L227.6 252.2L228.1 252.2L228.6 252.2L229.1 252.2L229.6 252.2L230.1 252.2L230.6 252.2L231.1 252.2L231.6 252.2L232.1 252.2L232.6 252.2L233.1 252.2L233.6 252.2L234.1 252.2L234.6 252.2L235.1 252.2L235.6 252.2L236.1 252.2L236.6 252.1L237.1 252.1L237.6 252.0L238.1 251.9L238.6 251.7L239.1 251.4L239.6 251.0L240.1 250.4L240.6 249.7L241.1 248.8L241.6 247.7L242.1 246.6L242.6 245.4L243.1 244.3L243.6 243.4L244.1 242.8L244.6 242.5L245.1 242.6L245.6 243.1L246.1 243.9L246.6 244.9L247.1 246.1L247.6 247.3L248.1 248.4L248.6 249.3L249.1 250.1L249.6 250.8L250.1 251.3L250.6 251.6L251.1 251.8L251.6 252.0L252.1 252.1L252.6 252.1L253.1 252.2L253.6 252.2L254.1 252.2L254.6 252.2L255.1 252.2L255.6 252.2L256.1 252.2L256.6 252.2L257.1 252.2L257.6 252.2L258.1 252.1L258.6 252.1L259.1 252.0L259.6 251.9L260.1 251.7L260.6 251.3L261.1 250.8L261.6 250.1L262.1 249.2L262.6 248.0L263.1 246.6L263.6 245.0L264.1 243.2L264.6 241.6L265.1 240.1L265.6 238.9L266.1 238.2L266.6 238.0L267.1 238.4L267.6 239.3L268.1 240.6L268.6 242.2L269.1 243.9L269.6 245.6L270.1 247.2" fill="none" stroke="#767676" stroke-width="0.8"/>
<path d="M21.1 250.5L21.6 249.7L22.1 248.8L22.6 247.8L23.1 246.7L23.6 245.5L24.1 244.5L24.6 243.6L25.1 243.0L25.6 242.7L26.1 242.8L26.6 243.3L27.1 244.1L27.6 245.1L28.1 246.2L28.6 247.4L29.1 248.4L29.6 249.4L30.1 250.2L30.6 250.8L31.1 251.3L31.6 251.6L32.1 251.8L32.6 252.0L33.1 252.1L33.6 252.1L34.1 252.2L34.6 252.2L35.1 252.2L35.6 252.2L36.1 252.2L36.6 252.2L37.1 252.2L37.6 252.2L38.1 252.2L38.6 252.2L39.1 252.2L39.6 252.2L40.1 252.2L40.6 252.2L41.1 252.2L41.6 252.2L42.1 252.2L42.6 252.2L43.1 252.2L43.6 252.2L44.1 252.2L44.6 252.2L45.1 252.2L45.6 252.2L46.1 252.2L46.6 252.2L47.1 252.2L47.6 252.2L48.1 252.2L48.6 252.2L49.1 252.2L49.6 252.2L50.1 252.2L50.6 252.2L51.1 252.1L51.6 252.0L52.1 251.9L52.6 251.7L53.1 251.4L53.6 251.0L54.1 250.4L54.6 249.6L55.1 248.5L55.6 247.3L56.1 245.9L56.6 244.4L57.1 242.9L57.6 241.6L58.1 240.6L58.6 240.0L59.1 239.8L59.6 240.2L60.1 240.9L60.6 242.1L61.1 243.5L61.6 245.0L62.1 246.5L62.6 247.8L63.1 249.0L63.6 249.9L64.1 250.7L64.6 251.2L65.1 251.6L65.6 251.8L66.1 252.0L66.6 252.1L67.1 252.1L67.6 252.2L68.1 252.2L68.6 252.2L69.1 252.2L69.6 252.2L70.1 252.2L70.6 252.2L71.1 252.2L71.6 252.2L72.1 252.2L72.6 252.2L73.1 252.2L73.6 252.2L74.1 252.2L74.6 252.2L75.1 252.2L75.6 252.2L76.1 252.2L76.6 252.2L77.1 252.2L77.6 252.2L78.1 252.2L78.6 252.2L79.1 252.2L79.6 252.2L80.1 252.2L80.6 252.2L81.1 252.2L81.6 252.2L82.1 252.2L82.6 252.2L83.1 252.2L83.6 252.2L84.1 252.2L84.6 252.2L85.1 252.2L85.6 252.2L86.1 252.2L86.6 252.2L87.1 252.2L87.6 252.2L88.1 252.2L88.6 252.2L89.1 252.2L89.6 252.2L90.1 252.2L90.6 252.2L91.1 252.2L91.6 252.2L92.1 252.2L92.6 252.2L93.1 252.2L93.6 252.2L94.1 252.2L94.6 252.2L95.1 252.2L95.6 252.2L96.1 252.1L96.6 252.1L97.1 252.0L97.6 251.8L98.1 251.5L98.6 251.0L99.1 250.4L99.6 249.4L100.1 248.2L100.6 246.7L101.1 244.9L101.6 242.9L102.1 240.8L102.6 238.8L103.1 237.0L103.6 235.7L104.1 234.9L104.6 234.9L105.1 235.5L105.6 236.7L106.1 238.4L106.6 240.4L107.1 242.5L107.6 244.5L108.1 246.4L108.6 248.0L109.1 249.2L109.6 250.2L110.1 250.9L110.6 251.4L111.1 251.7L111.6 251.9L112.1 252.0L112.6 252.1L113.1 252.2L113.6 252.2L114.1 252.2L114.6 252.2L115.1 252.2L115.6 252.2L116.1 252.2L116.6 252.2L117.1 252.2L117.6 252.2L118.1 252.2L118.6 252.2L119.1 252.2L119.6 252.2L120.1 252.2L120.6 252.2L121.1 252.2L121.6 252.2L122.1 252.2L122.6 252.2L123.1 252.2L123.6 252.2L124.1 252.2L124.6 252.2L125.1 252.2L125.6 252.2L126.1 252.2L126.6 252.2L127.1 252.2L127.6 252.2L128.1 252.2L128.6 252.2L129.1 252.2L129.6 252.1L130.1 252.1L130.6 252.0L131.1 251.8L131.6 251.5L132.1 251.0L132.6 250.3L133.1 249.2L133.6 247.7L134.1 245.7L134.6 243.1L135.1 240.0L135.6 236.5L136.1 232.8L136.6 229.2L137.1 226.0L137.6 223.4L138.1 221.9L138.6 221.5L139.1 222.4L139.6 224.3L140.1 227.2L140.6 230.6L141.1 234.3L141.6 238.0L142.1 241.3L142.6 244.2L143.1 246.6L143.6 248.4L144.1 249.7L144.6 250.6L145.1 251.3L145.6 251.7L146.1 251.9L146.6 252.0L147.1 252.1L147.6 252.2L148.1 252.2L148.6 252.2L149.1 252.2L149.6 252.2L150.1 252.2L150.6 252.2L151.1 252.2L151.6 252.2L152.1 252.2L152.6 252.2L153.1 252.2L153.6 252.2L154.1 252.2L154.6 252.2L155.1 252.2L155.6 252.2L156.1 252.2L156.6 252.2L157.1 252.2L157.6 252.2L158.1 252.2L158.6 252.2L159.1 252.2L159.6 252.2L160.1 252.1L160.6 252.1L161.1 252.0L161.6 251.8L162.1 251.5L162.6 251.1L163.1 250.4L163.6 249.5L164.1 248.3L164.6 246.8L165.1 245.0L165.6 242.9L166.1 240.7L166.6 238.6L167.1 236.6L167.6 235.1L168.1 234.2L168.6 234.0L169.1 234.5L169.6 235.7L170.1 237.4L170.6 239.4L171.1 241.6L171.6 243.8L172.1 245.7L172.6 247.5L173.1 248.9L173.6 249.9L174.1 250.7L174.6 251.3L175.1 251.6L175.6 251.9L176.1 252.0L176.6 252.1L177.1 252.2L177.6 252.2L178.1 252.2L178.6 252.2L179.1 252.2L179.6 252.2L180.1 252.2L180.6 252.2L181.1 252.2L181.6 252.2L182.1 252.2L182.6 252.2L183.1 252.2L183.6 252.2L184.1 252.2L184.6 252.2L185.1 252.2L185.6 252.2L186.1 252.2L186.6 252.2L187.1 252.2L187.6 252.2L188.1 252.2L188.6 252.2L189.1 252.2L189.6 252.2L190.1 252.2L190.6 252.2L191.1 252.2L191.6 252.2L192.1 252.2L192.6 252.2L193.1 252.2L193.6 252.2L194.1 252.2L194.6 252.2L195.1 252.2L195.6 252.2L196.1 252.2L196.6 252.2L197.1 252.2L197.6 252.2L198.1 252.2L198.6 252.2L199.1 252.2L199.6 252.2L200.1 252.2L200.6 252.2L201.1 252.2L201.6 252.2L202.1 252.2L202.6 252.2L203.1 252.2L203.6 252.2L204.1 252.2L204.6 252.2L205.1 252.2L205.6 252.2L206.1 252.2L206.6 252.2L207.1 252.2L207.6 252.2L208.1 252.2L208.6 252.2L209.1 252.2L209.6 252.2L210.1 252.2L210.6 252.2L211.1 252.2L211.6 252.2L212.1 252.2L212.6 252.2L213.1 252.2L213.6 252.2L214.1 252.2L214.6 252.2L215.1 252.2L215.6 252.2L216.1 252.2L216.6 252.2L217.1 252.2L217.6 252.2L218.1 252.2L218.6 252.2L219.1 252.2L219.6 252.2L220.1 252.2L220.6 252.2L221.1 252.2L221.6 252.2L222.1 252.2L222.6 252.2L223.1 252.2L223.6 252.2L224.1 252.2L224.6 252.2L225.1 252.2L225.6 252.2L226.1 252.1L226.6 252.1L227.1 252.0L227.6 251.9L228.1 251.6L228.6 251.3L229.1 250.9L229.6 250.2L230.1 249.5L230.6 248.6L231.1 247.5L231.6 246.4L232.1 245.3L232.6 244.3L233.1 243.6L233.6 243.1L234.1 243.0L234.6 243.3L235.1 243.8L235.6 244.7L236.1 245.7L236.6 246.8L237.1 247.9L237.6 248.9L238.1 249.8L238.6 250.5L239.1 251.1L239.6 251.5L240.1 251.7L240.6 251.9L241.1 252.0L241.6 252.1L242.1 252.2L242.6 252.2L243.1 252.2L243.6 252.2L244.1 252.2L244.6 252.2L245.1 252.2L245.6 252.2L246.1 252.2L246.6 252.2L247.1 252.2L247.6 252.2L248.1 252.2L248.6 252.2L249.1 252.2L249.6 252.2L250.1 252.2L250.6 252.2L251.1 252.2L251.6 252.2L252.1 252.2L252.6 252.2L253.1 252.2L253.6 252.2L254.1 252.2L254.6 252.2L255.1 252.2L255.6 252.2L256.1 252.2L256.6 252.2L257.1 252.2L257.6 252.2L258.1 252.2L258.6 252.2L259.1 252.2L259.6 252.2L260.1 252.2L260.6 252.2L261.1 252.2L261.6 252.2L262.1 252.2L262.6 252.2L263.1 252.2L263.6 252.2L264.1 252.2L264.6 252.2L265.1 252.2L265.6 252.2L266.1 252.2L266.6 252.2L267.1 252.2L267.6 252.2L268.1 252.2L268.6 252.2L269.1 252.2L269.6 252.2L270.1 252.2" fill="none" stroke="#a8c0a6" stroke-width="0.8"/>
<path d="M21.1 252.2L21.6 252.2L22.1 252.2L22.6 252.2L23.1 252.2L23.6 252.2L24.1 252.2L24.6 252.2L25.1 252.2L25.6 252.2L26.1 252.2L26.6 252.2L27.1 252.2L27.6 252.2L28.1 252.2L28.6 252.2L29.1 252.2L29.6 252.2L30.1 252.2L30.6 252.2L31.1 252.2L31.6 252.2L32.1 252.2L32.6 252.2L33.1 252.2L33.6 252.2L34.1 252.2L34.6 252.2L35.1 252.2L35.6 252.2L36.1 252.2L36.6 252.2L37.1 252.2L37.6 252.2L38.1 252.2L38.6 252.2L39.1 252.2L39.6 252.2L40.1 252.2L40.6 252.1L41.1 252.1L41.6 252.0L42.1 251.9L42.6 251.7L43.1 251.3L43.6 250.8L44.1 250.1L44.6 249.2L45.1 248.0L45.6 246.6L46.1 245.0L46.6 243.2L47.1 241.6L47.6 240.1L48.1 238.9L48.6 238.2L49.1 238.0L49.6 238.4L50.1 239.3L50.6 240.6L51.1 242.2L51.6 243.9L52.1 245.6L52.6 247.2L53.1 248.5L53.6 249.6L54.1 250.4L54.6 251.0L55.1 251.5L55.6 251.8L56.1 251.9L56.6 252.1L57.1 252.1L57.6 252.2L58.1 252.2L58.6 252.2L59.1 252.2L59.6 252.2L60.1 252.2L60.6 252.2L61.1 252.2L61.6 252.2L62.1 252.2L62.6 252.2L63.1 252.2L63.6 252.2L64.1 252.2L64.6 252.2L65.1 252.2L65.6 252.2L66.1 252.2L66.6 252.2L67.1 252.2L67.6 252.2L68.1 252.2L68.6 252.2L69.1 252.2L69.6 252.2L70.1 252.2L70.6 252.2L71.1 252.2L71.6 252.2L72.1 252.1L72.6 252.0L73.1 251.9L73.6 251.7L74.1 251.4L74.6 250.9L75.1 250.2L75.6 249.2L76.1 247.9L76.6 246.2L77.1 244.4L77.6 242.3L78.1 240.1L78.6 238.1L79.1 236.3L79.6 235.1L80.1 234.5L80.6 234.5L81.1 235.3L81.6 236.7L82.1 238.5L82.6 240.5L83.1 242.7L83.6 244.8L84.1 246.6L84.6 248.1L85.1 249.4L85.6 250.3L86.1 251.0L86.6 251.5L87.1 251.8L87.6 251.9L88.1 252.1L88.6 252.1L89.1 252.2L89.6 252.2L90.1 252.2L90.6 252.2L91.1 252.2L91.6 252.2L92.1 252.2L92.6 252.2L93.1 252.2L93.6 252.2L94.1 252.2L94.6 252.2L95.1 252.2L95.6 252.2L96.1 252.2L96.6 252.2L97.1 252.2L97.6 252.2L98.1 252.2L98.6 252.2L99.1 252.2L99.6 252.2L100.1 252.2L100.6 252.2L101.1 252.2L101.6 252.2L102.1 252.2L102.6 252.2L103.1 252.2L103.6 252.2L104.1 252.2L104.6 252.2L105.1 252.2L105.6 252.2L106.1 252.2L106.6 252.2L107.1 252.2L107.6 252.2L108.1 252.2L108.6 252.2L109.1 252.2L109.6 252.2L110.1 252.2L110.6 252.2L111.1 252.2L111.6 252.2L112.1 252.2L112.6 252.2L113.1 252.2L113.6 252.2L114.1 252.2L114.6 252.2L115.1 252.2L115.6 252.2L116.1 252.2L116.6 252.2L117.1 252.2L117.6 252.2L118.1 252.2L118.6 252.2L119.1 252.2L119.6 252.2L120.1 252.2L120.6 252.2L121.1 252.2L121.6 252.2L122.1 252.2L122.6 252.2L123.1 252.2L123.6 252.2L124.1 252.2L124.6 252.2L125.1 252.2L125.6 252.2L126.1 252.2L126.6 252.2L127.1 252.2L127.6 252.2L128.1 252.2L128.6 252.2L129.1 252.2L129.6 252.2L130.1 252.2L130.6 252.2L131.1 252.2L131.6 252.2L132.1 252.2L132.6 252.2L133.1 252.2L133.6 252.2L134.1 252.2L134.6 252.2L135.1 252.2L135.6 252.2L136.1 252.2L136.6 252.2L137.1 252.2L137.6 252.2L138.1 252.2L138.6 252.2L139.1 252.2L139.6 252.2L140.1 252.2L140.6 252.2L141.1 252.2L141.6 252.2L142.1 252.2L142.6 252.2L143.1 252.2L143.6 252.2L144.1 252.2L144.6 252.2L145.1 252.2L145.6 252.2L146.1 252.2L146.6 252.2L147.1 252.2L147.6 252.2L148.1 252.2L148.6 252.2L149.1 252.2L149.6 252.2L150.1 252.2L150.6 252.2L151.1 252.2L151.6 252.2L152.1 252.2L152.6 252.2L153.1 252.2L153.6 252.2L154.1 252.2L154.6 252.2L155.1 252.2L155.6 252.2L156.1 252.2L156.6 252.2L157.1 252.2L157.6 252.2L158.1 252.2L158.6 252.2L159.1 252.2L159.6 252.2L160.1 252.2L160.6 252.2L161.1 252.2L161.6 252.2L162.1 252.2L162.6 252.2L163.1 252.2L163.6 252.2L164.1 252.2L164.6 252.2L165.1 252.2L165.6 252.2L166.1 252.2L166.6 252.2L167.1 252.2L167.6 252.2L168.1 252.2L168.6 252.2L169.1 252.2L169.6 252.1L170.1 252.1L170.6 252.0L171.1 251.8L171.6 251.5L172.1 251.1L172.6 250.5L173.1 249.6L173.6 248.4L174.1 246.9L174.6 245.1L175.1 243.0L175.6 240.8L176.1 238.7L176.6 236.8L177.1 235.3L177.6 234.4L178.1 234.2L178.6 234.7L179.1 235.8L179.6 237.5L180.1 239.5L180.6 241.6L181.1 243.6L181.6 245.4L182.1 246.8L182.6 247.8L183.1 248.2L183.6 248.1L184.1 247.5L184.6 246.3L185.1 244.7L185.6 242.8L186.1 240.8L186.6 238.7L187.1 236.8L187.6 235.3L188.1 234.4L188.6 234.2L189.1 234.7L189.6 235.9L190.1 237.5L190.6 239.6L191.1 241.7L191.6 243.9L192.1 245.8L192.6 247.5L193.1 248.9L193.6 250.0L194.1 250.7L194.6 251.3L195.1 251.6L195.6 251.9L196.1 252.0L196.6 252.1L197.1 252.2L197.6 252.2L198.1 252.2L198.6 252.2L199.1 252.2L199.6 252.2L200.1 252.2L200.6 252.2L201.1 252.2L201.6 252.2L202.1 252.2L202.6 252.2L203.1 252.2L203.6 252.2L204.1 252.2L204.6 252.2L205.1 252.2L205.6 252.2L206.1 252.2L206.6 252.2L207.1 252.2L207.6 252.2L208.1 252.2L208.6 252.2L209.1 252.2L209.6 252.2L210.1 252.2L210.6 252.2L211.1 252.2L211.6 252.2L212.1 252.2L212.6 252.2L213.1 252.2L213.6 252.2L214.1 252.2L214.6 252.1L215.1 252.1L215.6 252.0L216.1 251.8L216.6 251.5L217.1 251.1L217.6 250.5L218.1 249.6L218.6 248.4L219.1 246.9L219.6 245.1L220.1 243.0L220.6 240.8L221.1 238.7L221.6 236.8L222.1 235.3L222.6 234.4L223.1 234.2L223.6 234.7L224.1 235.9L224.6 237.5L225.1 239.6L225.6 241.7L226.1 243.9L226.6 245.8L227.1 247.5L227.6 248.9L228.1 250.0L228.6 250.7L229.1 251.3L229.6 251.6L230.1 251.9L230.6 252.0L231.1 252.1L231.6 252.2L232.1 252.2L232.6 252.2L233.1 252.2L233.6 252.2L234.1 252.2L234.6 252.2L235.1 252.2L235.6 252.2L236.1 252.2L236.6 252.2L237.1 252.2L237.6 252.2L238.1 252.2L238.6 252.2L239.1 252.2L239.6 252.2L240.1 252.2L240.6 252.2L241.1 252.2L241.6 252.2L242.1 252.2L242.6 252.2L243.1 252.2L243.6 252.2L244.1 252.2L244.6 252.2L245.1 252.2L245.6 252.2L246.1 252.2L246.6 252.2L247.1 252.2L247.6 252.1L248.1 252.1L248.6 251.9L249.1 251.8L249.6 251.5L250.1 251.0L250.6 250.3L251.1 249.4L251.6 248.2L252.1 246.8L252.6 245.1L253.1 243.2L253.6 241.2L254.1 239.3L254.6 237.8L255.1 236.6L255.6 236.1L256.1 236.1L256.6 236.8L257.1 238.0L257.6 239.7L258.1 241.6L258.6 243.5L259.1 245.4L259.6 247.1L260.1 248.5L260.6 249.6L261.1 250.5L261.6 251.1L262.1 251.5L262.6 251.8L263.1 252.0L263.6 252.1L264.1 252.1L264.6 252.2L265.1 252.2L265.6 252.2L266.1 252.2L266.6 252.2L267.1 252.2L267.6 252.2L268.1 252.2L268.6 252.2L269.1 252.2L269.6 252.2L270.1 252.2" fill="none" stroke="#8e8ed0" stroke-width="0.8"/>
<path d="M21.1 252.2L21.6 252.2L22.1 252.2L22.6 252.2L23.1 252.2L23.6 252.2L24.1 252.2L24.6 252.2L25.1 252.2L25.6 252.2L26.1 252.2L26.6 252.2L27.1 252.2L27.6 252.2L28.1 252.2L28.6 252.2L29.1 252.2L29.6 252.2L30.1 252.2L30.6 252.2L31.1 252.2L31.6 252.2L32.1 252.2L32.6 252.2L33.1 252.2L33.6 252.2L34.1 252.2L34.6 252.2L35.1 252.2L35.6 252.2L36.1 252.2L36.6 252.2L37.1 252.2L37.6 252.2L38.1 252.2L38.6 252.2L39.1 252.2L39.6 252.2L40.1 252.2L40.6 252.2L41.1 252.2L41.6 252.2L42.1 252.2L42.6 252.2L43.1 252.2L43.6 252.2L44.1 252.2L44.6 252.2L45.1 252.2L45.6 252.2L46.1 252.2L46.6 252.2L47.1 252.2L47.6 252.2L48.1 252.2L48.6 252.2L49.1 252.2L49.6 252.2L50.1 252.2L50.6 252.2L51.1 252.2L51.6 252.2L52.1 252.2L52.6 252.2L53.1 252.2L53.6 252.2L54.1 252.2L54.6 252.2L55.1 252.2L55.6 252.2L56.1 252.2L56.6 252.2L57.1 252.2L57.6 252.2L58.1 252.2L58.6 252.2L59.1 252.2L59.6 252.2L60.1 252.2L60.6 252.2L61.1 252.2L61.6 252.1L62.1 252.0L62.6 251.9L63.1 251.7L63.6 251.3L64.1 250.8L64.6 250.0L65.1 249.1L65.6 247.8L66.1 246.2L66.6 244.5L67.1 242.6L67.6 240.7L68.1 238.9L68.6 237.5L69.1 236.6L69.6 236.3L70.1 236.6L70.6 237.5L71.1 238.9L71.6 240.7L72.1 242.6L72.6 244.5L73.1 246.2L73.6 247.8L74.1 249.1L74.6 250.0L75.1 250.8L75.6 251.3L76.1 251.7L76.6 251.9L77.1 252.0L77.6 252.1L78.1 252.2L78.6 252.2L79.1 252.2L79.6 252.2L80.1 252.2L80.6 252.2L81.1 252.2L81.6 252.2L82.1 252.2L82.6 252.2L83.1 252.2L83.6 252.2L84.1 252.2L84.6 252.2L85.1 252.2L85.6 252.2L86.1 252.2L86.6 252.2L87.1 252.2L87.6 252.2L88.1 252.2L88.6 252.2L89.1 252.2L89.6 252.2L90.1 252.2L90.6 252.2L91.1 252.2L91.6 252.2L92.1 252.2L92.6 252.2L93.1 252.2L93.6 252.2L94.1 252.2L94.6 252.2L95.1 252.2L95.6 252.2L96.1 252.2L96.6 252.2L97.1 252.2L97.6 252.2L98.1 252.2L98.6 252.2L99.1 252.2L99.6 252.2L100.1 252.2L100.6 252.2L101.1 252.2L101.6 252.2L102.1 252.2L102.6 252.2L103.1 252.2L103.6 252.2L104.1 252.2L104.6 252.2L105.1 252.2L105.6 252.2L106.1 252.2L106.6 252.2L107.1 252.2L107.6 252.2L108.1 252.2L108.6 252.2L109.1 252.2L109.6 252.2L110.1 252.2L110.6 252.2L111.1 252.2L111.6 252.2L112.1 252.2L112.6 252.2L113.1 252.2L113.6 252.2L114.1 252.2L114.6 252.2L115.1 252.2L115.6 252.2L116.1 252.2L116.6 252.2L117.1 252.2L117.6 252.2L118.1 252.2L118.6 252.2L119.1 252.2L119.6 252.2L120.1 252.2L120.6 252.2L121.1 252.2L121.6 252.2L122.1 252.2L122.6 252.2L123.1 252.2L123.6 252.2L124.1 252.2L124.6 252.2L125.1 252.2L125.6 252.2L126.1 252.2L126.6 252.2L127.1 252.2L127.6 252.2L128.1 252.2L128.6 252.2L129.1 252.2L129.6 252.2L130.1 252.2L130.6 252.2L131.1 252.2L131.6 252.2L132.1 252.2L132.6 252.2L133.1 252.2L133.6 252.2L134.1 252.2L134.6 252.2L135.1 252.2L135.6 252.2L136.1 252.2L136.6 252.2L137.1 252.2L137.6 252.2L138.1 252.2L138.6 252.2L139.1 252.2L139.6 252.2L140.1 252.2L140.6 252.2L141.1 252.1L141.6 252.1L142.1 252.0L142.6 251.8L143.1 251.6L143.6 251.3L144.1 250.9L144.6 250.4L145.1 249.7L145.6 249.0L146.1 248.3L146.6 247.6L147.1 246.9L147.6 246.4L148.1 246.1L148.6 246.0L149.1 246.2L149.6 246.5L150.1 247.1L150.6 247.7L151.1 248.4L151.6 249.0L152.1 249.4L152.6 249.6L153.1 249.6L153.6 249.2L154.1 248.5L154.6 247.4L155.1 246.0L155.6 244.3L156.1 242.6L156.6 240.8L157.1 239.2L157.6 237.9L158.1 237.2L158.6 237.0L159.1 237.4L159.6 238.4L160.1 239.8L160.6 241.5L161.1 243.3L161.6 245.2L162.1 246.8L162.6 248.2L163.1 249.4L163.6 250.3L164.1 251.0L164.6 251.4L165.1 251.7L165.6 251.9L166.1 252.1L166.6 252.1L167.1 252.2L167.6 252.2L168.1 252.2L168.6 252.2L169.1 252.2L169.6 252.2L170.1 252.2L170.6 252.2L171.1 252.2L171.6 252.2L172.1 252.2L172.6 252.2L173.1 252.2L173.6 252.2L174.1 252.2L174.6 252.2L175.1 252.2L175.6 252.2L176.1 252.2L176.6 252.2L177.1 252.2L177.6 252.2L178.1 252.2L178.6 252.2L179.1 252.2L179.6 252.2L180.1 252.2L180.6 252.2L181.1 252.2L181.6 252.2L182.1 252.2L182.6 252.2L183.1 252.2L183.6 252.2L184.1 252.2L184.6 252.2L185.1 252.2L185.6 252.2L186.1 252.2L186.6 252.2L187.1 252.2L187.6 252.2L188.1 252.2L188.6 252.2L189.1 252.2L189.6 252.2L190.1 252.2L190.6 252.2L191.1 252.2L191.6 252.2L192.1 252.1L192.6 252.1L193.1 251.9L193.6 251.8L194.1 251.4L194.6 251.0L195.1 250.3L195.6 249.4L196.1 248.1L196.6 246.5L197.1 244.7L197.6 242.6L198.1 240.4L198.6 238.3L199.1 236.5L199.6 235.1L200.1 234.3L200.6 234.3L201.1 234.9L201.6 236.2L202.1 237.9L202.6 240.0L203.1 242.1L203.6 244.2L204.1 246.1L204.6 247.6L205.1 248.7L205.6 249.5L206.1 249.8L206.6 249.7L207.1 249.1L207.6 248.2L208.1 246.8L208.6 245.1L209.1 243.1L209.6 241.0L210.1 238.9L210.6 237.1L211.1 235.6L211.6 234.7L212.1 234.5L212.6 235.0L213.1 236.1L213.6 237.8L214.1 239.8L214.6 241.9L215.1 244.0L215.6 245.9L216.1 247.6L216.6 248.9L217.1 250.0L217.6 250.8L218.1 251.3L218.6 251.7L219.1 251.9L219.6 252.0L220.1 252.1L220.6 252.2L221.1 252.2L221.6 252.2L222.1 252.2L222.6 252.2L223.1 252.2L223.6 252.2L224.1 252.2L224.6 252.2L225.1 252.2L225.6 252.2L226.1 252.2L226.6 252.2L227.1 252.2L227.6 252.2L228.1 252.2L228.6 252.2L229.1 252.2L229.6 252.2L230.1 252.2L230.6 252.2L231.1 252.2L231.6 252.2L232.1 252.2L232.6 252.2L233.1 252.2L233.6 252.2L234.1 252.2L234.6 252.2L235.1 252.2L235.6 252.2L236.1 252.2L236.6 252.2L237.1 252.2L237.6 252.2L238.1 252.2L238.6 252.2L239.1 252.2L239.6 252.2L240.1 252.2L240.6 252.2L241.1 252.2L241.6 252.2L242.1 252.2L242.6 252.2L243.1 252.2L243.6 252.2L244.1 252.2L244.6 252.2L245.1 252.2L245.6 252.2L246.1 252.2L246.6 252.2L247.1 252.2L247.6 252.2L248.1 252.2L248.6 252.2L249.1 252.2L249.6 252.2L250.1 252.2L250.6 252.2L251.1 252.2L251.6 252.2L252.1 252.2L252.6 252.2L253.1 252.2L253.6 252.2L254.1 252.2L254.6 252.2L255.1 252.2L255.6 252.2L256.1 252.2L256.6 252.2L257.1 252.2L257.6 252.2L258.1 252.2L258.6 252.2L259.1 252.2L259.6 252.2L260.1 252.2L260.6 252.2L261.1 252.2L261.6 252.2L262.1 252.2L262.6 252.2L263.1 252.2L263.6 252.2L264.1 252.2L264.6 252.2L265.1 252.2L265.6 252.2L266.1 252.2L266.6 252.2L267.1 252.2L267.6 252.2L268.1 252.2L268.6 252.2L269.1 252.2L269.6 252.2L270.1 252.2" fill="none" stroke="#dc9898" stroke-width="0.8"/>
<path d="M21.1 252.39999999999998H270.5" stroke="#6a6a6a" stroke-width="0.7"/>
<path d="M21.1 254.5H270.5" stroke="#f0cccc" stroke-width="0.6"/>
</g>
<rect x="20.1" y="180.55" width="251.4" height="79.64999999999998" fill="none" stroke="#000" stroke-width="1.5"/>
<text x="297.0" y="175.6" font-size="10" font-weight="bold" fill="#111" stroke="#111" stroke-width="0.25" textLength="40.6" lengthAdjust="spacingAndGlyphs">Case # 3</text>
<text x="368.7" y="175.6" font-size="10" font-weight="bold" fill="#111" stroke="#111" stroke-width="0.25" textLength="40.2" lengthAdjust="spacingAndGlyphs">c.808-35</text>
<text x="410.7" y="175.6" font-size="10" font-weight="bold" fill="#111" stroke="#111" stroke-width="0.25" textLength="21.3" lengthAdjust="spacingAndGlyphs">T&gt;A</text>
<text x="439.8" y="175.6" font-size="10" font-weight="bold" fill="#111" stroke="#111" stroke-width="0.25" textLength="35.8" lengthAdjust="spacingAndGlyphs">intronic</text>
<clipPath id="c3"><rect x="288.9" y="181.65" width="222.5" height="82.74999999999997"/></clipPath><g clip-path="url(#c3)">
<rect x="390.3" y="181.65" width="10.5" height="74.25" fill="#c6d8f6"/>
<path d="M289.9 187.6H510.4" stroke="#c4c8c4" stroke-width="0.6" stroke-dasharray="1 1"/>
<path d="M298 183V190M307.9 183V190M317.4 183V190M326.9 183V190M339.5 183V190M350.3 183V190M360.7 183V190M373.4 183V190M383.9 183V190M407 183V190M417.4 183V190M427.5 183V190M438.6 183V190M449.7 183V190M460.8 183V190M472.5 183V190M484.5 183V190M495.6 183V190M506.7 183V190" stroke="#686868" stroke-width="0.9"/>
<text x="298" y="198.4" font-size="5.8" font-weight="bold" fill="#b88888" text-anchor="middle" >T</text>
<text x="307.9" y="198.4" font-size="5.8" font-weight="bold" fill="#303030" text-anchor="middle" >G</text>
<text x="317.4" y="198.4" font-size="5.8" font-weight="bold" fill="#b88888" text-anchor="middle" >T</text>
<text x="326.9" y="198.4" font-size="5.8" font-weight="bold" fill="#b88888" text-anchor="middle" >T</text>
<text x="339.5" y="198.4" font-size="5.8" font-weight="bold" fill="#404040" text-anchor="middle" >C</text>
<text x="350.3" y="198.4" font-size="5.8" font-weight="bold" fill="#404040" text-anchor="middle" >C</text>
<text x="360.7" y="198.4" font-size="5.8" font-weight="bold" fill="#b88888" text-anchor="middle" >T</text>
<text x="373.4" y="198.4" font-size="5.8" font-weight="bold" fill="#404040" text-anchor="middle" >C</text>
<text x="383.9" y="198.4" font-size="5.8" font-weight="bold" fill="#404040" text-anchor="middle" >C</text>
<rect x="390.3" y="181.65" width="10.5" height="17.25" fill="#e2eaf8"/>
<rect x="393.20000000000005" y="192.0" width="4.8" height="6.8" fill="#b8c4e2"/>
<text x="395.6" y="197.20000000000002" font-size="5" font-weight="bold" fill="#223" text-anchor="middle" >K</text>
<text x="407" y="198.4" font-size="5.8" font-weight="bold" fill="#303030" text-anchor="middle" >G</text>
<text x="417.4" y="198.4" font-size="5.8" font-weight="bold" fill="#404040" text-anchor="middle" >C</text>
<text x="427.5" y="198.4" font-size="5.8" font-weight="bold" fill="#a2aa92" text-anchor="middle" >A</text>
<text x="438.6" y="198.4" font-size="5.8" font-weight="bold" fill="#404040" text-anchor="middle" >C</text>
<text x="449.7" y="198.4" font-size="5.8" font-weight="bold" fill="#a2aa92" text-anchor="middle" >A</text>
<text x="460.8" y="198.4" font-size="5.8" font-weight="bold" fill="#a2aa92" text-anchor="middle" >A</text>
<text x="472.5" y="198.4" font-size="5.8" font-weight="bold" fill="#a2aa92" text-anchor="middle" >A</text>
<text x="484.5" y="198.4" font-size="5.8" font-weight="bold" fill="#a2aa92" text-anchor="middle" >A</text>
<text x="495.6" y="198.4" font-size="5.8" font-weight="bold" fill="#404040" text-anchor="middle" >C</text>
<text x="506.7" y="198.4" font-size="5.8" font-weight="bold" fill="#b88888" text-anchor="middle" >T</text>
<text x="351" y="204.8" font-size="6" font-weight="bold" fill="#333" text-anchor="middle" >110</text>
<text x="461.7" y="204.8" font-size="6" font-weight="bold" fill="#333" text-anchor="middle" >120</text>
<rect x="289.9" y="256.8" width="220.5" height="6" fill="#f5f6f4" stroke="#dadcda" stroke-width="0.5"/>
<rect x="383" y="257.2" width="17.600000000000023" height="5.6" fill="#d2dcf4"/>
<rect x="289.5" y="258" width="2.1000000000000227" height="4.5" fill="#9aa6d8"/>
<rect x="508.5" y="258" width="1.8000000000000114" height="4.5" fill="#b8c0e0"/>
<path d="M289.9 255.4L290.4 255.4L290.9 255.4L291.4 255.4L291.9 255.4L292.4 255.4L292.9 255.4L293.4 255.4L293.9 255.4L294.4 255.4L294.9 255.4L295.4 255.4L295.9 255.4L296.4 255.4L296.9 255.4L297.4 255.4L297.9 255.4L298.4 255.4L298.9 255.4L299.4 255.4L299.9 255.4L300.4 255.4L300.9 255.3L301.4 255.2L301.9 255.1L302.4 254.8L302.9 254.3L303.4 253.5L303.9 252.3L304.4 250.5L304.9 248.2L305.4 245.2L305.9 241.6L306.4 237.5L306.9 233.3L307.4 229.2L307.9 225.8L308.4 223.5L308.9 222.4L309.4 222.9L309.9 224.7L310.4 227.8L310.9 231.6L311.4 235.8L311.9 240.0L312.4 243.8L312.9 247.1L313.4 249.7L313.9 251.6L314.4 253.0L314.9 254.0L315.4 254.6L315.9 255.0L316.4 255.2L316.9 255.3L317.4 255.3L317.9 255.4L318.4 255.4L318.9 255.4L319.4 255.4L319.9 255.4L320.4 255.4L320.9 255.4L321.4 255.4L321.9 255.4L322.4 255.4L322.9 255.4L323.4 255.4L323.9 255.4L324.4 255.4L324.9 255.4L325.4 255.4L325.9 255.4L326.4 255.4L326.9 255.4L327.4 255.4L327.9 255.4L328.4 255.4L328.9 255.4L329.4 255.4L329.9 255.4L330.4 255.4L330.9 255.4L331.4 255.4L331.9 255.4L332.4 255.4L332.9 255.4L333.4 255.4L333.9 255.4L334.4 255.4L334.9 255.4L335.4 255.4L335.9 255.4L336.4 255.4L336.9 255.4L337.4 255.4L337.9 255.4L338.4 255.4L338.9 255.4L339.4 255.4L339.9 255.4L340.4 255.4L340.9 255.4L341.4 255.4L341.9 255.4L342.4 255.4L342.9 255.4L343.4 255.4L343.9 255.4L344.4 255.4L344.9 255.4L345.4 255.4L345.9 255.4L346.4 255.4L346.9 255.4L347.4 255.4L347.9 255.4L348.4 255.4L348.9 255.4L349.4 255.4L349.9 255.4L350.4 255.4L350.9 255.4L351.4 255.4L351.9 255.4L352.4 255.4L352.9 255.4L353.4 255.4L353.9 255.4L354.4 255.4L354.9 255.4L355.4 255.4L355.9 255.4L356.4 255.4L356.9 255.4L357.4 255.4L357.9 255.4L358.4 255.4L358.9 255.4L359.4 255.4L359.9 255.4L360.4 255.4L360.9 255.4L361.4 255.4L361.9 255.4L362.4 255.4L362.9 255.4L363.4 255.4L363.9 255.4L364.4 255.4L364.9 255.4L365.4 255.4L365.9 255.4L366.4 255.4L366.9 255.4L367.4 255.4L367.9 255.4L368.4 255.4L368.9 255.4L369.4 255.4L369.9 255.4L370.4 255.4L370.9 255.4L371.4 255.4L371.9 255.4L372.4 255.4L372.9 255.4L373.4 255.4L373.9 255.4L374.4 255.4L374.9 255.4L375.4 255.4L375.9 255.4L376.4 255.4L376.9 255.4L377.4 255.4L377.9 255.4L378.4 255.4L378.9 255.4L379.4 255.4L379.9 255.4L380.4 255.4L380.9 255.4L381.4 255.4L381.9 255.4L382.4 255.4L382.9 255.4L383.4 255.4L383.9 255.4L384.4 255.4L384.9 255.4L385.4 255.4L385.9 255.4L386.4 255.4L386.9 255.4L387.4 255.4L387.9 255.4L388.4 255.4L388.9 255.4L389.4 255.4L389.9 255.4L390.4 255.4L390.9 255.4L391.4 255.4L391.9 255.4L392.4 255.4L392.9 255.4L393.4 255.4L393.9 255.4L394.4 255.4L394.9 255.4L395.4 255.4L395.9 255.4L396.4 255.4L396.9 255.4L397.4 255.4L397.9 255.4L398.4 255.4L398.9 255.3L399.4 255.2L399.9 255.0L400.4 254.7L400.9 254.2L401.4 253.4L401.9 252.2L402.4 250.4L402.9 248.0L403.4 244.9L403.9 241.2L404.4 237.0L404.9 232.7L405.4 228.5L405.9 225.0L406.4 222.6L406.9 221.5L407.4 222.0L407.9 223.9L408.4 227.0L408.9 231.0L409.4 235.3L409.9 239.6L410.4 243.5L410.9 246.8L411.4 249.5L411.9 251.5L412.4 253.0L412.9 253.9L413.4 254.6L413.9 254.9L414.4 255.2L414.9 255.3L415.4 255.3L415.9 255.4L416.4 255.4L416.9 255.4L417.4 255.4L417.9 255.4L418.4 255.4L418.9 255.4L419.4 255.4L419.9 255.4L420.4 255.4L420.9 255.4L421.4 255.4L421.9 255.4L422.4 255.4L422.9 255.4L423.4 255.4L423.9 255.4L424.4 255.4L424.9 255.4L425.4 255.4L425.9 255.4L426.4 255.4L426.9 255.4L427.4 255.4L427.9 255.4L428.4 255.4L428.9 255.4L429.4 255.4L429.9 255.4L430.4 255.4L430.9 255.4L431.4 255.4L431.9 255.4L432.4 255.4L432.9 255.4L433.4 255.4L433.9 255.4L434.4 255.4L434.9 255.4L435.4 255.4L435.9 255.4L436.4 255.4L436.9 255.4L437.4 255.4L437.9 255.4L438.4 255.4L438.9 255.4L439.4 255.4L439.9 255.4L440.4 255.4L440.9 255.4L441.4 255.4L441.9 255.4L442.4 255.4L442.9 255.4L443.4 255.4L443.9 255.4L444.4 255.4L444.9 255.4L445.4 255.4L445.9 255.4L446.4 255.4L446.9 255.4L447.4 255.4L447.9 255.4L448.4 255.4L448.9 255.4L449.4 255.4L449.9 255.4L450.4 255.4L450.9 255.4L451.4 255.4L451.9 255.4L452.4 255.4L452.9 255.4L453.4 255.4L453.9 255.4L454.4 255.4L454.9 255.4L455.4 255.4L455.9 255.4L456.4 255.4L456.9 255.4L457.4 255.4L457.9 255.4L458.4 255.4L458.9 255.4L459.4 255.4L459.9 255.4L460.4 255.4L460.9 255.4L461.4 255.4L461.9 255.4L462.4 255.4L462.9 255.4L463.4 255.4L463.9 255.4L464.4 255.4L464.9 255.4L465.4 255.4L465.9 255.4L466.4 255.4L466.9 255.4L467.4 255.4L467.9 255.4L468.4 255.4L468.9 255.4L469.4 255.4L469.9 255.4L470.4 255.4L470.9 255.4L471.4 255.4L471.9 255.4L472.4 255.4L472.9 255.4L473.4 255.4L473.9 255.4L474.4 255.4L474.9 255.4L475.4 255.4L475.9 255.4L476.4 255.4L476.9 255.4L477.4 255.4L477.9 255.4L478.4 255.4L478.9 255.4L479.4 255.4L479.9 255.4L480.4 255.4L480.9 255.4L481.4 255.4L481.9 255.4L482.4 255.4L482.9 255.4L483.4 255.4L483.9 255.4L484.4 255.4L484.9 255.4L485.4 255.4L485.9 255.4L486.4 255.4L486.9 255.4L487.4 255.4L487.9 255.4L488.4 255.4L488.9 255.4L489.4 255.4L489.9 255.4L490.4 255.4L490.9 255.4L491.4 255.4L491.9 255.4L492.4 255.4L492.9 255.4L493.4 255.4L493.9 255.4L494.4 255.4L494.9 255.4L495.4 255.4L495.9 255.4L496.4 255.4L496.9 255.4L497.4 255.4L497.9 255.4L498.4 255.4L498.9 255.4L499.4 255.4L499.9 255.4L500.4 255.4L500.9 255.4L501.4 255.4L501.9 255.4L502.4 255.4L502.9 255.4L503.4 255.4L503.9 255.4L504.4 255.4L504.9 255.4L505.4 255.4L505.9 255.4L506.4 255.4L506.9 255.4L507.4 255.4L507.9 255.4L508.4 255.4L508.9 255.4L509.4 255.4L509.9 255.4L510.4 255.4" fill="none" stroke="#767676" stroke-width="0.8"/>
<path d="M289.9 255.4L290.4 255.4L290.9 255.4L291.4 255.4L291.9 255.4L292.4 255.4L292.9 255.4L293.4 255.4L293.9 255.4L294.4 255.4L294.9 255.4L295.4 255.4L295.9 255.4L296.4 255.4L296.9 255.4L297.4 255.4L297.9 255.4L298.4 255.4L298.9 255.4L299.4 255.4L299.9 255.4L300.4 255.4L300.9 255.4L301.4 255.4L301.9 255.4L302.4 255.4L302.9 255.4L303.4 255.4L303.9 255.4L304.4 255.4L304.9 255.4L305.4 255.4L305.9 255.4L306.4 255.4L306.9 255.4L307.4 255.4L307.9 255.4L308.4 255.4L308.9 255.4L309.4 255.4L309.9 255.4L310.4 255.4L310.9 255.4L311.4 255.4L311.9 255.4L312.4 255.4L312.9 255.4L313.4 255.4L313.9 255.4L314.4 255.4L314.9 255.4L315.4 255.4L315.9 255.4L316.4 255.4L316.9 255.4L317.4 255.4L317.9 255.4L318.4 255.4L318.9 255.4L319.4 255.4L319.9 255.4L320.4 255.4L320.9 255.4L321.4 255.4L321.9 255.4L322.4 255.4L322.9 255.4L323.4 255.4L323.9 255.4L324.4 255.4L324.9 255.4L325.4 255.4L325.9 255.4L326.4 255.4L326.9 255.4L327.4 255.4L327.9 255.4L328.4 255.4L328.9 255.4L329.4 255.4L329.9 255.4L330.4 255.4L330.9 255.4L331.4 255.4L331.9 255.4L332.4 255.4L332.9 255.4L333.4 255.4L333.9 255.4L334.4 255.4L334.9 255.4L335.4 255.4L335.9 255.4L336.4 255.4L336.9 255.4L337.4 255.4L337.9 255.4L338.4 255.4L338.9 255.4L339.4 255.4L339.9 255.4L340.4 255.4L340.9 255.4L341.4 255.4L341.9 255.4L342.4 255.4L342.9 255.4L343.4 255.4L343.9 255.4L344.4 255.4L344.9 255.4L345.4 255.4L345.9 255.4L346.4 255.4L346.9 255.4L347.4 255.4L347.9 255.4L348.4 255.4L348.9 255.4L349.4 255.4L349.9 255.4L350.4 255.4L350.9 255.4L351.4 255.4L351.9 255.4L352.4 255.4L352.9 255.4L353.4 255.4L353.9 255.4L354.4 255.4L354.9 255.4L355.4 255.4L355.9 255.4L356.4 255.4L356.9 255.4L357.4 255.4L357.9 255.4L358.4 255.4L358.9 255.4L359.4 255.4L359.9 255.4L360.4 255.4L360.9 255.4L361.4 255.4L361.9 255.4L362.4 255.4L362.9 255.4L363.4 255.4L363.9 255.4L364.4 255.4L364.9 255.4L365.4 255.4L365.9 255.4L366.4 255.4L366.9 255.4L367.4 255.4L367.9 255.4L368.4 255.4L368.9 255.4L369.4 255.4L369.9 255.4L370.4 255.4L370.9 255.4L371.4 255.4L371.9 255.4L372.4 255.4L372.9 255.4L373.4 255.4L373.9 255.4L374.4 255.4L374.9 255.4L375.4 255.4L375.9 255.4L376.4 255.4L376.9 255.4L377.4 255.4L377.9 255.4L378.4 255.4L378.9 255.4L379.4 255.4L379.9 255.4L380.4 255.4L380.9 255.4L381.4 255.4L381.9 255.4L382.4 255.4L382.9 255.4L383.4 255.4L383.9 255.4L384.4 255.4L384.9 255.4L385.4 255.4L385.9 255.4L386.4 255.4L386.9 255.4L387.4 255.3L387.9 255.3L388.4 255.2L388.9 255.1L389.4 254.8L389.9 254.4L390.4 253.9L390.9 253.1L391.4 252.0L391.9 250.8L392.4 249.3L392.9 247.7L393.4 246.2L393.9 244.8L394.4 243.7L394.9 243.1L395.4 243.0L395.9 243.5L396.4 244.5L396.9 245.9L397.4 247.4L397.9 249.0L398.4 250.5L398.9 251.8L399.4 252.9L399.9 253.7L400.4 254.3L400.9 254.7L401.4 255.0L401.9 255.2L402.4 255.3L402.9 255.3L403.4 255.4L403.9 255.4L404.4 255.4L404.9 255.4L405.4 255.4L405.9 255.4L406.4 255.4L406.9 255.4L407.4 255.4L407.9 255.4L408.4 255.4L408.9 255.4L409.4 255.4L409.9 255.4L410.4 255.4L410.9 255.4L411.4 255.4L411.9 255.4L412.4 255.4L412.9 255.4L413.4 255.4L413.9 255.4L414.4 255.4L414.9 255.4L415.4 255.4L415.9 255.4L416.4 255.4L416.9 255.4L417.4 255.4L417.9 255.4L418.4 255.4L418.9 255.4L419.4 255.4L419.9 255.3L420.4 255.2L420.9 255.1L421.4 254.8L421.9 254.4L422.4 253.7L422.9 252.6L423.4 251.1L423.9 249.0L424.4 246.4L424.9 243.2L425.4 239.6L425.9 235.9L426.4 232.3L426.9 229.3L427.4 227.2L427.9 226.3L428.4 226.7L428.9 228.4L429.4 231.0L429.9 234.4L430.4 238.1L430.9 241.8L431.4 245.2L431.9 248.1L432.4 250.4L432.9 252.1L433.4 253.3L433.9 254.2L434.4 254.7L434.9 255.0L435.4 255.2L435.9 255.3L436.4 255.4L436.9 255.4L437.4 255.4L437.9 255.4L438.4 255.4L438.9 255.4L439.4 255.4L439.9 255.4L440.4 255.4L440.9 255.4L441.4 255.4L441.9 255.3L442.4 255.3L442.9 255.1L443.4 254.9L443.9 254.5L444.4 253.8L444.9 252.7L445.4 251.1L445.9 248.9L446.4 245.9L446.9 242.2L447.4 237.8L447.9 233.0L448.4 228.2L448.9 223.8L449.4 220.4L449.9 218.2L450.4 217.7L450.9 218.9L451.4 221.6L451.9 225.5L452.4 230.1L452.9 234.9L453.4 239.5L453.9 243.6L454.4 246.9L454.9 249.3L455.4 250.8L455.9 251.5L456.4 251.2L456.9 250.1L457.4 248.2L457.9 245.4L458.4 241.7L458.9 237.5L459.4 232.8L459.9 228.2L460.4 224.2L460.9 221.0L461.4 219.3L461.9 219.1L462.4 220.6L462.9 223.4L463.4 227.4L463.9 231.9L464.4 236.5L464.9 240.9L465.4 244.6L465.9 247.5L466.4 249.5L466.9 250.6L467.4 250.8L467.9 250.0L468.4 248.2L468.9 245.6L469.4 242.0L469.9 237.7L470.4 233.0L470.9 228.2L471.4 223.8L471.9 220.4L472.4 218.2L472.9 217.7L473.4 218.9L473.9 221.6L474.4 225.5L474.9 230.1L475.4 234.9L475.9 239.6L476.4 243.7L476.9 247.0L477.4 249.6L477.9 251.3L478.4 252.3L478.9 252.6L479.4 252.3L479.9 251.3L480.4 249.7L480.9 247.6L481.4 244.9L481.9 241.8L482.4 238.6L482.9 235.6L483.4 233.0L483.9 231.2L484.4 230.4L484.9 230.8L485.4 232.2L485.9 234.5L486.4 237.4L486.9 240.6L487.4 243.7L487.9 246.6L488.4 249.1L488.9 251.1L489.4 252.6L489.9 253.6L490.4 254.3L490.9 254.8L491.4 255.1L491.9 255.2L492.4 255.3L492.9 255.4L493.4 255.4L493.9 255.4L494.4 255.4L494.9 255.4L495.4 255.4L495.9 255.4L496.4 255.4L496.9 255.4L497.4 255.4L497.9 255.4L498.4 255.4L498.9 255.4L499.4 255.4L499.9 255.4L500.4 255.4L500.9 255.4L501.4 255.4L501.9 255.4L502.4 255.4L502.9 255.4L503.4 255.4L503.9 255.4L504.4 255.4L504.9 255.4L505.4 255.4L505.9 255.4L506.4 255.4L506.9 255.4L507.4 255.4L507.9 255.4L508.4 255.4L508.9 255.4L509.4 255.4L509.9 255.4L510.4 255.4" fill="none" stroke="#a8c0a6" stroke-width="0.8"/>
<path d="M289.9 255.4L290.4 255.4L290.9 255.4L291.4 255.4L291.9 255.4L292.4 255.4L292.9 255.4L293.4 255.4L293.9 255.4L294.4 255.4L294.9 255.4L295.4 255.4L295.9 255.4L296.4 255.4L296.9 255.4L297.4 255.4L297.9 255.4L298.4 255.4L298.9 255.4L299.4 255.4L299.9 255.4L300.4 255.4L300.9 255.4L301.4 255.4L301.9 255.4L302.4 255.4L302.9 255.4L303.4 255.4L303.9 255.4L304.4 255.4L304.9 255.4L305.4 255.4L305.9 255.4L306.4 255.4L306.9 255.4L307.4 255.4L307.9 255.4L308.4 255.4L308.9 255.4L309.4 255.4L309.9 255.4L310.4 255.4L310.9 255.4L311.4 255.4L311.9 255.4L312.4 255.4L312.9 255.4L313.4 255.4L313.9 255.4L314.4 255.4L314.9 255.4L315.4 255.4L315.9 255.4L316.4 255.4L316.9 255.4L317.4 255.4L317.9 255.4L318.4 255.4L318.9 255.4L319.4 255.4L319.9 255.4L320.4 255.4L320.9 255.4L321.4 255.4L321.9 255.4L322.4 255.4L322.9 255.4L323.4 255.4L323.9 255.4L324.4 255.4L324.9 255.4L325.4 255.4L325.9 255.4L326.4 255.4L326.9 255.4L327.4 255.4L327.9 255.4L328.4 255.4L328.9 255.4L329.4 255.4L329.9 255.4L330.4 255.4L330.9 255.4L331.4 255.3L331.9 255.2L332.4 255.0L332.9 254.7L333.4 254.1L333.9 253.1L334.4 251.7L334.9 249.7L335.4 247.0L335.9 243.4L336.4 239.2L336.9 234.4L337.4 229.4L337.9 224.7L338.4 220.7L338.9 217.9L339.4 216.7L339.9 217.3L340.4 219.4L340.9 223.0L341.4 227.5L341.9 232.4L342.4 237.3L342.9 241.8L343.4 245.5L343.9 248.5L344.4 250.7L344.9 252.0L345.4 252.7L345.9 252.7L346.4 252.2L346.9 251.0L347.4 249.3L347.9 247.2L348.4 244.6L348.9 241.8L349.4 239.1L349.9 236.6L350.4 234.7L350.9 233.7L351.4 233.6L351.9 234.5L352.4 236.2L352.9 238.5L353.4 241.3L353.9 244.1L354.4 246.7L354.9 249.1L355.4 251.0L355.9 252.4L356.4 253.5L356.9 254.2L357.4 254.7L357.9 255.0L358.4 255.2L358.9 255.3L359.4 255.4L359.9 255.4L360.4 255.4L360.9 255.4L361.4 255.4L361.9 255.4L362.4 255.4L362.9 255.4L363.4 255.4L363.9 255.4L364.4 255.4L364.9 255.4L365.4 255.3L365.9 255.2L366.4 255.0L366.9 254.7L367.4 254.2L367.9 253.3L368.4 252.0L368.9 250.2L369.4 247.8L369.9 244.7L370.4 241.1L370.9 237.0L371.4 232.8L371.9 229.0L372.4 225.8L372.9 223.7L373.4 223.0L373.9 223.7L374.4 225.8L374.9 229.0L375.4 232.8L375.9 237.0L376.4 241.0L376.9 244.6L377.4 247.5L377.9 249.7L378.4 251.1L378.9 251.7L379.4 251.6L379.9 250.7L380.4 249.1L380.9 246.9L381.4 244.0L381.9 240.8L382.4 237.3L382.9 234.1L383.4 231.3L383.9 229.4L384.4 228.5L384.9 228.9L385.4 230.4L385.9 232.9L386.4 236.0L386.9 239.4L387.4 242.8L387.9 245.8L388.4 248.3L388.9 250.2L389.4 251.5L389.9 252.0L390.4 251.9L390.9 251.2L391.4 250.0L391.9 248.2L392.4 246.1L392.9 243.8L393.4 241.4L393.9 239.3L394.4 237.7L394.9 236.9L395.4 236.8L395.9 237.5L396.4 239.0L396.9 241.0L397.4 243.3L397.9 245.7L398.4 248.0L398.9 250.0L399.4 251.6L399.9 252.9L400.4 253.8L400.9 254.4L401.4 254.8L401.9 255.1L402.4 255.2L402.9 255.3L403.4 255.4L403.9 255.4L404.4 255.4L404.9 255.4L405.4 255.4L405.9 255.4L406.4 255.4L406.9 255.4L407.4 255.4L407.9 255.4L408.4 255.4L408.9 255.3L409.4 255.3L409.9 255.1L410.4 254.8L410.9 254.4L411.4 253.6L411.9 252.3L412.4 250.4L412.9 247.7L413.4 244.1L413.9 239.5L414.4 234.1L414.9 228.1L415.4 221.9L415.9 216.2L416.4 211.5L416.9 208.4L417.4 207.3L417.9 208.4L418.4 211.5L418.9 216.2L419.4 221.9L419.9 228.1L420.4 234.1L420.9 239.5L421.4 244.1L421.9 247.7L422.4 250.4L422.9 252.3L423.4 253.6L423.9 254.4L424.4 254.8L424.9 255.1L425.4 255.3L425.9 255.3L426.4 255.4L426.9 255.4L427.4 255.4L427.9 255.4L428.4 255.4L428.9 255.4L429.4 255.4L429.9 255.4L430.4 255.4L430.9 255.3L431.4 255.3L431.9 255.2L432.4 254.9L432.9 254.5L433.4 253.9L433.9 252.8L434.4 251.2L434.9 248.9L435.4 245.8L435.9 241.8L436.4 237.0L436.9 231.5L437.4 225.9L437.9 220.5L438.4 216.0L438.9 212.8L439.4 211.4L439.9 212.0L440.4 214.5L440.9 218.6L441.4 223.7L441.9 229.3L442.4 234.9L442.9 240.0L443.4 244.3L443.9 247.8L444.4 250.4L444.9 252.3L445.4 253.5L445.9 254.3L446.4 254.8L446.9 255.1L447.4 255.2L447.9 255.3L448.4 255.4L448.9 255.4L449.4 255.4L449.9 255.4L450.4 255.4L450.9 255.4L451.4 255.4L451.9 255.4L452.4 255.4L452.9 255.4L453.4 255.4L453.9 255.4L454.4 255.4L454.9 255.4L455.4 255.4L455.9 255.4L456.4 255.4L456.9 255.4L457.4 255.4L457.9 255.4L458.4 255.4L458.9 255.4L459.4 255.4L459.9 255.4L460.4 255.4L460.9 255.4L461.4 255.4L461.9 255.4L462.4 255.4L462.9 255.4L463.4 255.4L463.9 255.4L464.4 255.4L464.9 255.4L465.4 255.4L465.9 255.4L466.4 255.4L466.9 255.4L467.4 255.4L467.9 255.4L468.4 255.4L468.9 255.4L469.4 255.4L469.9 255.4L470.4 255.4L470.9 255.4L471.4 255.4L471.9 255.4L472.4 255.4L472.9 255.4L473.4 255.4L473.9 255.4L474.4 255.4L474.9 255.4L475.4 255.4L475.9 255.4L476.4 255.4L476.9 255.4L477.4 255.4L477.9 255.4L478.4 255.4L478.9 255.4L479.4 255.4L479.9 255.4L480.4 255.4L480.9 255.4L481.4 255.4L481.9 255.4L482.4 255.4L482.9 255.4L483.4 255.4L483.9 255.4L484.4 255.4L484.9 255.4L485.4 255.4L485.9 255.4L486.4 255.4L486.9 255.4L487.4 255.4L487.9 255.4L488.4 255.4L488.9 255.3L489.4 255.2L489.9 255.1L490.4 254.9L490.9 254.5L491.4 253.9L491.9 253.0L492.4 251.9L492.9 250.4L493.4 248.5L493.9 246.4L494.4 244.2L494.9 242.0L495.4 240.1L495.9 238.8L496.4 238.1L496.9 238.1L497.4 239.0L497.9 240.5L498.4 242.4L498.9 244.6L499.4 246.8L499.9 248.9L500.4 250.7L500.9 252.1L501.4 253.2L501.9 254.0L502.4 254.6L502.9 254.9L503.4 255.1L503.9 255.3L504.4 255.3L504.9 255.4L505.4 255.4L505.9 255.4L506.4 255.4L506.9 255.4L507.4 255.4L507.9 255.4L508.4 255.4L508.9 255.4L509.4 255.4L509.9 255.4L510.4 255.4" fill="none" stroke="#8e8ed0" stroke-width="0.8"/>
<path d="M289.9 240.9L290.4 244.0L290.9 246.8L291.4 249.1L291.9 250.9L292.4 252.1L292.9 252.7L293.4 252.8L293.9 252.2L294.4 251.1L294.9 249.4L295.4 247.0L295.9 244.1L296.4 240.8L296.9 237.3L297.4 234.1L297.9 231.3L298.4 229.4L298.9 228.5L299.4 228.9L299.9 230.4L300.4 232.9L300.9 236.0L301.4 239.4L301.9 242.8L302.4 246.0L302.9 248.6L303.4 250.7L303.9 252.3L304.4 253.5L304.9 254.2L305.4 254.7L305.9 255.0L306.4 255.2L306.9 255.3L307.4 255.4L307.9 255.4L308.4 255.4L308.9 255.4L309.4 255.4L309.9 255.3L310.4 255.2L310.9 255.0L311.4 254.7L311.9 254.2L312.4 253.4L312.9 252.1L313.4 250.3L313.9 247.9L314.4 244.7L314.9 240.9L315.4 236.7L315.9 232.3L316.4 228.0L316.9 224.5L317.4 222.0L317.9 220.9L318.4 221.4L318.9 223.3L319.4 226.4L319.9 230.4L320.4 234.6L320.9 238.8L321.4 242.3L321.9 244.9L322.4 246.4L322.9 246.6L323.4 245.4L323.9 242.7L324.4 238.7L324.9 233.4L325.4 227.3L325.9 220.8L326.4 214.6L326.9 209.3L327.4 205.6L327.9 204.0L328.4 204.7L328.9 207.6L329.4 212.4L329.9 218.3L330.4 224.9L330.9 231.4L331.4 237.4L331.9 242.4L332.4 246.5L332.9 249.6L333.4 251.7L333.9 253.2L334.4 254.1L334.9 254.7L335.4 255.0L335.9 255.2L336.4 255.3L336.9 255.4L337.4 255.4L337.9 255.4L338.4 255.4L338.9 255.4L339.4 255.4L339.9 255.4L340.4 255.4L340.9 255.4L341.4 255.4L341.9 255.4L342.4 255.4L342.9 255.4L343.4 255.4L343.9 255.4L344.4 255.4L344.9 255.4L345.4 255.4L345.9 255.4L346.4 255.4L346.9 255.4L347.4 255.4L347.9 255.4L348.4 255.4L348.9 255.4L349.4 255.4L349.9 255.4L350.4 255.4L350.9 255.4L351.4 255.4L351.9 255.4L352.4 255.4L352.9 255.4L353.4 255.3L353.9 255.2L354.4 255.0L354.9 254.7L355.4 254.1L355.9 253.1L356.4 251.6L356.9 249.3L357.4 246.3L357.9 242.2L358.4 237.2L358.9 231.4L359.4 225.2L359.9 219.0L360.4 213.5L360.9 209.3L361.4 207.0L361.9 206.8L362.4 208.7L362.9 212.6L363.4 217.8L363.9 223.9L364.4 230.2L364.9 236.1L365.4 241.3L365.9 245.5L366.4 248.8L366.9 251.2L367.4 252.8L367.9 253.9L368.4 254.6L368.9 255.0L369.4 255.2L369.9 255.3L370.4 255.3L370.9 255.4L371.4 255.4L371.9 255.4L372.4 255.4L372.9 255.4L373.4 255.4L373.9 255.4L374.4 255.4L374.9 255.4L375.4 255.4L375.9 255.4L376.4 255.4L376.9 255.4L377.4 255.4L377.9 255.4L378.4 255.4L378.9 255.4L379.4 255.4L379.9 255.4L380.4 255.4L380.9 255.4L381.4 255.4L381.9 255.4L382.4 255.4L382.9 255.4L383.4 255.4L383.9 255.4L384.4 255.4L384.9 255.4L385.4 255.4L385.9 255.4L386.4 255.4L386.9 255.4L387.4 255.4L387.9 255.4L388.4 255.4L388.9 255.4L389.4 255.4L389.9 255.4L390.4 255.4L390.9 255.4L391.4 255.4L391.9 255.4L392.4 255.4L392.9 255.4L393.4 255.4L393.9 255.4L394.4 255.4L394.9 255.4L395.4 255.4L395.9 255.4L396.4 255.4L396.9 255.4L397.4 255.4L397.9 255.4L398.4 255.4L398.9 255.4L399.4 255.4L399.9 255.4L400.4 255.4L400.9 255.4L401.4 255.4L401.9 255.4L402.4 255.4L402.9 255.4L403.4 255.4L403.9 255.4L404.4 255.4L404.9 255.4L405.4 255.4L405.9 255.4L406.4 255.4L406.9 255.4L407.4 255.4L407.9 255.4L408.4 255.4L408.9 255.4L409.4 255.4L409.9 255.4L410.4 255.4L410.9 255.4L411.4 255.4L411.9 255.4L412.4 255.4L412.9 255.4L413.4 255.4L413.9 255.4L414.4 255.4L414.9 255.4L415.4 255.4L415.9 255.4L416.4 255.4L416.9 255.4L417.4 255.4L417.9 255.4L418.4 255.4L418.9 255.4L419.4 255.4L419.9 255.4L420.4 255.4L420.9 255.4L421.4 255.4L421.9 255.4L422.4 255.4L422.9 255.4L423.4 255.4L423.9 255.4L424.4 255.4L424.9 255.4L425.4 255.4L425.9 255.4L426.4 255.4L426.9 255.4L427.4 255.4L427.9 255.4L428.4 255.4L428.9 255.4L429.4 255.4L429.9 255.4L430.4 255.4L430.9 255.4L431.4 255.4L431.9 255.4L432.4 255.4L432.9 255.4L433.4 255.4L433.9 255.4L434.4 255.4L434.9 255.4L435.4 255.4L435.9 255.4L436.4 255.4L436.9 255.4L437.4 255.4L437.9 255.4L438.4 255.4L438.9 255.4L439.4 255.4L439.9 255.4L440.4 255.4L440.9 255.4L441.4 255.4L441.9 255.4L442.4 255.4L442.9 255.4L443.4 255.4L443.9 255.4L444.4 255.4L444.9 255.4L445.4 255.4L445.9 255.4L446.4 255.4L446.9 255.4L447.4 255.4L447.9 255.4L448.4 255.4L448.9 255.4L449.4 255.4L449.9 255.4L450.4 255.4L450.9 255.4L451.4 255.4L451.9 255.4L452.4 255.4L452.9 255.4L453.4 255.4L453.9 255.4L454.4 255.4L454.9 255.4L455.4 255.4L455.9 255.4L456.4 255.4L456.9 255.4L457.4 255.4L457.9 255.4L458.4 255.4L458.9 255.4L459.4 255.4L459.9 255.4L460.4 255.4L460.9 255.4L461.4 255.4L461.9 255.4L462.4 255.4L462.9 255.4L463.4 255.4L463.9 255.4L464.4 255.4L464.9 255.4L465.4 255.4L465.9 255.4L466.4 255.4L466.9 255.4L467.4 255.4L467.9 255.4L468.4 255.4L468.9 255.4L469.4 255.4L469.9 255.4L470.4 255.4L470.9 255.4L471.4 255.4L471.9 255.4L472.4 255.4L472.9 255.4L473.4 255.4L473.9 255.4L474.4 255.4L474.9 255.4L475.4 255.4L475.9 255.4L476.4 255.4L476.9 255.4L477.4 255.4L477.9 255.4L478.4 255.4L478.9 255.4L479.4 255.4L479.9 255.4L480.4 255.4L480.9 255.4L481.4 255.4L481.9 255.4L482.4 255.4L482.9 255.4L483.4 255.4L483.9 255.4L484.4 255.4L484.9 255.4L485.4 255.4L485.9 255.4L486.4 255.4L486.9 255.4L487.4 255.4L487.9 255.4L488.4 255.4L488.9 255.4L489.4 255.4L489.9 255.4L490.4 255.4L490.9 255.4L491.4 255.4L491.9 255.4L492.4 255.4L492.9 255.4L493.4 255.4L493.9 255.4L494.4 255.4L494.9 255.4L495.4 255.4L495.9 255.4L496.4 255.4L496.9 255.4L497.4 255.4L497.9 255.4L498.4 255.4L498.9 255.4L499.4 255.4L499.9 255.4L500.4 255.3L500.9 255.2L501.4 255.1L501.9 254.8L502.4 254.4L502.9 253.8L503.4 252.8L503.9 251.4L504.4 249.6L504.9 247.4L505.4 244.8L505.9 241.9L506.4 239.0L506.9 236.3L507.4 234.2L507.9 232.9L508.4 232.6L508.9 233.3L509.4 235.0L509.9 237.3L510.4 240.1" fill="none" stroke="#dc9898" stroke-width="0.8"/>
<path d="M289.9 255.6H510.4" stroke="#6a6a6a" stroke-width="0.7"/>
<path d="M289.9 257.7H510.4" stroke="#f0cccc" stroke-width="0.6"/>
</g>
<rect x="288.9" y="181.65" width="222.5" height="82.74999999999997" fill="none" stroke="#000" stroke-width="1.5"/>
<text x="27.4" y="287.5" font-size="10" font-weight="bold" fill="#111" stroke="#111" stroke-width="0.25" textLength="41.2" lengthAdjust="spacingAndGlyphs">Case # 2</text>
<text x="99.6" y="287.6" font-size="10" font-weight="bold" fill="#111" stroke="#111" stroke-width="0.25" textLength="50.1" lengthAdjust="spacingAndGlyphs">c.1875C&gt;T</text>
<text x="157.9" y="287.6" font-size="10" font-weight="bold" fill="#8b1538" stroke="#8b1538" stroke-width="0.25" textLength="40.9" lengthAdjust="spacingAndGlyphs">p.A625A</text>
<clipPath id="c2"><rect x="17.8" y="292.3" width="245.59999999999997" height="78.30000000000001"/></clipPath><g clip-path="url(#c2)">
<rect x="135.3" y="292.3" width="8.799999999999983" height="70.59999999999997" fill="#c6d8f6"/>
<path d="M18.8 300.2H262.4" stroke="#c4c8c4" stroke-width="0.6" stroke-dasharray="1 1"/>
<path d="M18.7 297.9V301.4M27.3 297.9V301.4M35.9 297.9V301.4M44.6 297.9V301.4M52.6 297.9V301.4M60.4 297.9V301.4M68.1 297.9V301.4M76.2 297.9V301.4M83.4 297.9V301.4M91.1 297.9V301.4M99.2 297.9V301.4M106.9 297.9V301.4M115 297.9V301.4M123 297.9V301.4M131 297.9V301.4M148.3 297.9V301.4M157 297.9V301.4M164.7 297.9V301.4M172.5 297.9V301.4M180 297.9V301.4M187.8 297.9V301.4M195.6 297.9V301.4M203.6 297.9V301.4M211.7 297.9V301.4M220.4 297.9V301.4M229 297.9V301.4M237.7 297.9V301.4M245.5 297.9V301.4M252.7 297.9V301.4M260.5 297.9V301.4" stroke="#686868" stroke-width="0.9"/>
<text x="18.7" y="309.1" font-size="5.8" font-weight="bold" fill="#a2aa92" text-anchor="middle" >A</text>
<text x="27.3" y="309.1" font-size="5.8" font-weight="bold" fill="#303030" text-anchor="middle" >G</text>
<text x="35.9" y="309.1" font-size="5.8" font-weight="bold" fill="#b88888" text-anchor="middle" >T</text>
<text x="44.6" y="309.1" font-size="5.8" font-weight="bold" fill="#404040" text-anchor="middle" >C</text>
<text x="52.6" y="309.1" font-size="5.8" font-weight="bold" fill="#404040" text-anchor="middle" >C</text>
<text x="60.4" y="309.1" font-size="5.8" font-weight="bold" fill="#404040" text-anchor="middle" >C</text>
<text x="68.1" y="309.1" font-size="5.8" font-weight="bold" fill="#404040" text-anchor="middle" >C</text>
<text x="76.2" y="309.1" font-size="5.8" font-weight="bold" fill="#a2aa92" text-anchor="middle" >A</text>
<text x="83.4" y="309.1" font-size="5.8" font-weight="bold" fill="#a2aa92" text-anchor="middle" >A</text>
<text x="91.1" y="309.1" font-size="5.8" font-weight="bold" fill="#404040" text-anchor="middle" >C</text>
<text x="99.2" y="309.1" font-size="5.8" font-weight="bold" fill="#a2aa92" text-anchor="middle" >A</text>
<text x="106.9" y="309.1" font-size="5.8" font-weight="bold" fill="#a2aa92" text-anchor="middle" >A</text>
<text x="115" y="309.1" font-size="5.8" font-weight="bold" fill="#a2aa92" text-anchor="middle" >A</text>
<text x="123" y="309.1" font-size="5.8" font-weight="bold" fill="#303030" text-anchor="middle" >G</text>
<text x="131" y="309.1" font-size="5.8" font-weight="bold" fill="#404040" text-anchor="middle" >C</text>
<rect x="135.3" y="292.3" width="8.799999999999983" height="14.300000000000011" fill="#e2eaf8"/>
<rect x="137.2" y="299.70000000000005" width="4.8" height="6.8" fill="#b8c4e2"/>
<text x="139.6" y="304.90000000000003" font-size="5" font-weight="bold" fill="#223" text-anchor="middle" >K</text>
<text x="148.3" y="309.1" font-size="5.8" font-weight="bold" fill="#303030" text-anchor="middle" >G</text>
<text x="157" y="309.1" font-size="5.8" font-weight="bold" fill="#303030" text-anchor="middle" >G</text>
<text x="164.7" y="309.1" font-size="5.8" font-weight="bold" fill="#a2aa92" text-anchor="middle" >A</text>
<text x="172.5" y="309.1" font-size="5.8" font-weight="bold" fill="#303030" text-anchor="middle" >G</text>
<text x="180" y="309.1" font-size="5.8" font-weight="bold" fill="#b88888" text-anchor="middle" >T</text>
<text x="187.8" y="309.1" font-size="5.8" font-weight="bold" fill="#b88888" text-anchor="middle" >T</text>
<text x="195.6" y="309.1" font-size="5.8" font-weight="bold" fill="#b88888" text-anchor="middle" >T</text>
<text x="203.6" y="309.1" font-size="5.8" font-weight="bold" fill="#b88888" text-anchor="middle" >T</text>
<text x="211.7" y="309.1" font-size="5.8" font-weight="bold" fill="#b88888" text-anchor="middle" >T</text>
<text x="220.4" y="309.1" font-size="5.8" font-weight="bold" fill="#303030" text-anchor="middle" >G</text>
<text x="229" y="309.1" font-size="5.8" font-weight="bold" fill="#b88888" text-anchor="middle" >T</text>
<text x="237.7" y="309.1" font-size="5.8" font-weight="bold" fill="#b88888" text-anchor="middle" >T</text>
<text x="245.5" y="309.1" font-size="5.8" font-weight="bold" fill="#303030" text-anchor="middle" >G</text>
<text x="252.7" y="309.1" font-size="5.8" font-weight="bold" fill="#a2aa92" text-anchor="middle" >A</text>
<text x="260.5" y="309.1" font-size="5.8" font-weight="bold" fill="#b88888" text-anchor="middle" >T</text>
<text x="16" y="315.40000000000003" font-size="6" font-weight="bold" fill="#333" text-anchor="middle" >290</text>
<text x="99.2" y="315.40000000000003" font-size="6" font-weight="bold" fill="#333" text-anchor="middle" >300</text>
<text x="180.6" y="315.40000000000003" font-size="6" font-weight="bold" fill="#333" text-anchor="middle" >310</text>
<text x="259" y="315.40000000000003" font-size="6" font-weight="bold" fill="#333" text-anchor="middle" >320</text>
<rect x="18.8" y="365.0" width="243.59999999999997" height="4.4" fill="#f3f1f1"/>
<rect x="182.9" y="365.8" width="17.299999999999983" height="2.5" fill="#b8c8f0"/>
<path d="M18.8 362.4L19.3 362.4L19.8 362.4L20.3 362.4L20.8 362.4L21.3 362.4L21.8 362.4L22.3 362.4L22.8 362.3L23.3 362.2L23.8 362.0L24.3 361.6L24.8 360.8L25.3 359.6L25.8 358.0L26.3 356.1L26.8 354.2L27.3 352.7L27.8 352.0L28.3 352.3L28.8 353.5L29.3 355.3L29.8 357.3L30.3 359.0L30.8 360.4L31.3 361.3L31.8 361.9L32.3 362.2L32.8 362.3L33.3 362.4L33.8 362.4L34.3 362.4L34.8 362.4L35.3 362.4L35.8 362.4L36.3 362.4L36.8 362.4L37.3 362.4L37.8 362.4L38.3 362.4L38.8 362.4L39.3 362.4L39.8 362.4L40.3 362.4L40.8 362.4L41.3 362.4L41.8 362.4L42.3 362.4L42.8 362.4L43.3 362.4L43.8 362.4L44.3 362.4L44.8 362.4L45.3 362.4L45.8 362.4L46.3 362.4L46.8 362.4L47.3 362.4L47.8 362.4L48.3 362.4L48.8 362.4L49.3 362.4L49.8 362.4L50.3 362.4L50.8 362.4L51.3 362.4L51.8 362.4L52.3 362.4L52.8 362.4L53.3 362.4L53.8 362.4L54.3 362.4L54.8 362.4L55.3 362.4L55.8 362.4L56.3 362.4L56.8 362.4L57.3 362.4L57.8 362.4L58.3 362.4L58.8 362.4L59.3 362.4L59.8 362.4L60.3 362.4L60.8 362.4L61.3 362.4L61.8 362.4L62.3 362.4L62.8 362.4L63.3 362.4L63.8 362.4L64.3 362.4L64.8 362.4L65.3 362.4L65.8 362.4L66.3 362.4L66.8 362.4L67.3 362.4L67.8 362.4L68.3 362.4L68.8 362.4L69.3 362.4L69.8 362.4L70.3 362.4L70.8 362.4L71.3 362.4L71.8 362.4L72.3 362.4L72.8 362.4L73.3 362.4L73.8 362.4L74.3 362.4L74.8 362.4L75.3 362.4L75.8 362.4L76.3 362.4L76.8 362.4L77.3 362.4L77.8 362.4L78.3 362.4L78.8 362.4L79.3 362.4L79.8 362.4L80.3 362.4L80.8 362.4L81.3 362.4L81.8 362.4L82.3 362.4L82.8 362.4L83.3 362.4L83.8 362.4L84.3 362.4L84.8 362.4L85.3 362.4L85.8 362.4L86.3 362.4L86.8 362.4L87.3 362.4L87.8 362.4L88.3 362.4L88.8 362.4L89.3 362.4L89.8 362.4L90.3 362.4L90.8 362.4L91.3 362.4L91.8 362.4L92.3 362.4L92.8 362.4L93.3 362.4L93.8 362.4L94.3 362.4L94.8 362.4L95.3 362.4L95.8 362.4L96.3 362.4L96.8 362.4L97.3 362.4L97.8 362.4L98.3 362.4L98.8 362.4L99.3 362.4L99.8 362.4L100.3 362.4L100.8 362.4L101.3 362.4L101.8 362.4L102.3 362.4L102.8 362.4L103.3 362.4L103.8 362.4L104.3 362.4L104.8 362.4L105.3 362.4L105.8 362.4L106.3 362.4L106.8 362.4L107.3 362.4L107.8 362.4L108.3 362.4L108.8 362.4L109.3 362.4L109.8 362.4L110.3 362.4L110.8 362.4L111.3 362.4L111.8 362.4L112.3 362.4L112.8 362.4L113.3 362.4L113.8 362.4L114.3 362.4L114.8 362.4L115.3 362.4L115.8 362.4L116.3 362.4L116.8 362.4L117.3 362.4L117.8 362.4L118.3 362.3L118.8 362.2L119.3 361.9L119.8 361.3L120.3 360.2L120.8 358.5L121.3 356.2L121.8 353.3L122.3 350.3L122.8 347.9L123.3 346.5L123.8 346.7L124.3 348.3L124.8 350.9L125.3 353.9L125.8 356.7L126.3 358.9L126.8 360.5L127.3 361.4L127.8 362.0L128.3 362.2L128.8 362.3L129.3 362.4L129.8 362.4L130.3 362.4L130.8 362.4L131.3 362.4L131.8 362.4L132.3 362.4L132.8 362.4L133.3 362.4L133.8 362.4L134.3 362.4L134.8 362.3L135.3 362.1L135.8 361.8L136.3 361.2L136.8 360.2L137.3 358.7L137.8 356.9L138.3 354.9L138.8 353.2L139.3 352.2L139.8 352.1L140.3 352.9L140.8 354.5L141.3 356.5L141.8 358.3L142.3 359.9L142.8 360.9L143.3 361.3L143.8 361.3L144.3 360.5L144.8 358.9L145.3 356.3L145.8 352.5L146.3 348.0L146.8 343.2L147.3 339.3L147.8 337.2L148.3 337.4L148.8 340.0L149.3 344.1L149.8 348.9L150.3 353.3L150.8 356.9L151.3 359.2L151.8 360.5L152.3 360.9L152.8 360.2L153.3 358.5L153.8 355.5L154.3 351.1L154.8 345.5L155.3 339.5L155.8 334.3L156.3 331.2L156.8 330.8L157.3 333.5L157.8 338.4L158.3 344.3L158.8 350.0L159.3 354.7L159.8 358.1L160.3 360.2L160.8 361.4L161.3 362.0L161.8 362.2L162.3 362.3L162.8 362.4L163.3 362.4L163.8 362.4L164.3 362.4L164.8 362.4L165.3 362.4L165.8 362.4L166.3 362.4L166.8 362.4L167.3 362.4L167.8 362.3L168.3 362.1L168.8 361.7L169.3 360.9L169.8 359.5L170.3 357.4L170.8 354.7L171.3 351.6L171.8 348.6L172.3 346.4L172.8 345.6L173.3 346.4L173.8 348.6L174.3 351.6L174.8 354.7L175.3 357.4L175.8 359.5L176.3 360.9L176.8 361.7L177.3 362.1L177.8 362.3L178.3 362.4L178.8 362.4L179.3 362.4L179.8 362.4L180.3 362.4L180.8 362.4L181.3 362.4L181.8 362.4L182.3 362.4L182.8 362.4L183.3 362.4L183.8 362.4L184.3 362.4L184.8 362.4L185.3 362.4L185.8 362.4L186.3 362.4L186.8 362.4L187.3 362.4L187.8 362.4L188.3 362.4L188.8 362.4L189.3 362.4L189.8 362.4L190.3 362.4L190.8 362.4L191.3 362.4L191.8 362.4L192.3 362.4L192.8 362.4L193.3 362.4L193.8 362.4L194.3 362.4L194.8 362.4L195.3 362.4L195.8 362.4L196.3 362.4L196.8 362.4L197.3 362.4L197.8 362.4L198.3 362.4L198.8 362.4L199.3 362.4L199.8 362.4L200.3 362.4L200.8 362.4L201.3 362.4L201.8 362.4L202.3 362.4L202.8 362.4L203.3 362.4L203.8 362.4L204.3 362.4L204.8 362.4L205.3 362.4L205.8 362.4L206.3 362.4L206.8 362.4L207.3 362.4L207.8 362.4L208.3 362.4L208.8 362.4L209.3 362.4L209.8 362.4L210.3 362.4L210.8 362.4L211.3 362.4L211.8 362.4L212.3 362.4L212.8 362.4L213.3 362.4L213.8 362.4L214.3 362.4L214.8 362.4L215.3 362.3L215.8 362.2L216.3 361.9L216.8 361.2L217.3 359.9L217.8 357.5L218.3 353.7L218.8 348.3L219.3 341.8L219.8 335.1L220.3 329.5L220.8 326.5L221.3 326.8L221.8 330.5L222.3 336.4L222.8 343.2L223.3 349.5L223.8 354.6L224.3 358.1L224.8 360.2L225.3 361.4L225.8 362.0L226.3 362.3L226.8 362.3L227.3 362.4L227.8 362.4L228.3 362.4L228.8 362.4L229.3 362.4L229.8 362.4L230.3 362.4L230.8 362.4L231.3 362.4L231.8 362.4L232.3 362.4L232.8 362.4L233.3 362.4L233.8 362.4L234.3 362.4L234.8 362.4L235.3 362.4L235.8 362.4L236.3 362.4L236.8 362.4L237.3 362.4L237.8 362.4L238.3 362.4L238.8 362.4L239.3 362.3L239.8 362.1L240.3 361.6L240.8 360.5L241.3 358.7L241.8 355.6L242.3 351.3L242.8 345.8L243.3 339.9L243.8 334.8L244.3 331.6L244.8 331.3L245.3 334.0L245.8 338.8L246.3 344.6L246.8 350.2L247.3 354.9L247.8 358.2L248.3 360.2L248.8 361.4L249.3 362.0L249.8 362.2L250.3 362.3L250.8 362.4L251.3 362.4L251.8 362.4L252.3 362.4L252.8 362.4L253.3 362.4L253.8 362.4L254.3 362.4L254.8 362.4L255.3 362.4L255.8 362.4L256.3 362.4L256.8 362.4L257.3 362.4L257.8 362.4L258.3 362.4L258.8 362.4L259.3 362.4L259.8 362.4L260.3 362.4L260.8 362.4L261.3 362.4L261.8 362.4L262.3 362.4" fill="none" stroke="#767676" stroke-width="0.8"/>
<path d="M18.8 343.4L19.3 339.1L19.8 336.5L20.3 336.2L20.8 338.4L21.3 342.5L21.8 347.4L22.3 352.1L22.8 356.0L23.3 358.8L23.8 360.6L24.3 361.6L24.8 362.0L25.3 362.3L25.8 362.4L26.3 362.4L26.8 362.4L27.3 362.4L27.8 362.4L28.3 362.4L28.8 362.4L29.3 362.4L29.8 362.4L30.3 362.4L30.8 362.4L31.3 362.4L31.8 362.4L32.3 362.4L32.8 362.4L33.3 362.4L33.8 362.4L34.3 362.4L34.8 362.4L35.3 362.4L35.8 362.4L36.3 362.4L36.8 362.4L37.3 362.4L37.8 362.4L38.3 362.4L38.8 362.4L39.3 362.4L39.8 362.4L40.3 362.4L40.8 362.4L41.3 362.4L41.8 362.4L42.3 362.4L42.8 362.4L43.3 362.4L43.8 362.4L44.3 362.4L44.8 362.4L45.3 362.4L45.8 362.4L46.3 362.4L46.8 362.4L47.3 362.4L47.8 362.4L48.3 362.4L48.8 362.4L49.3 362.4L49.8 362.4L50.3 362.4L50.8 362.4L51.3 362.4L51.8 362.4L52.3 362.4L52.8 362.4L53.3 362.4L53.8 362.4L54.3 362.4L54.8 362.4L55.3 362.4L55.8 362.4L56.3 362.4L56.8 362.4L57.3 362.4L57.8 362.4L58.3 362.4L58.8 362.4L59.3 362.4L59.8 362.4L60.3 362.4L60.8 362.4L61.3 362.4L61.8 362.4L62.3 362.4L62.8 362.4L63.3 362.4L63.8 362.4L64.3 362.4L64.8 362.4L65.3 362.4L65.8 362.4L66.3 362.4L66.8 362.4L67.3 362.4L67.8 362.4L68.3 362.4L68.8 362.4L69.3 362.4L69.8 362.4L70.3 362.4L70.8 362.3L71.3 362.2L71.8 361.9L72.3 361.3L72.8 360.2L73.3 358.3L73.8 355.5L74.3 352.0L74.8 348.0L75.3 344.4L75.8 341.9L76.3 341.3L76.8 342.7L77.3 345.7L77.8 349.6L78.3 353.4L78.8 356.7L79.3 358.9L79.8 360.0L80.3 360.2L80.8 359.3L81.3 357.4L81.8 354.7L82.3 351.3L82.8 348.0L83.3 345.4L83.8 344.2L84.3 344.8L84.8 346.9L85.3 350.0L85.8 353.4L86.3 356.5L86.8 358.9L87.3 360.5L87.8 361.5L88.3 362.0L88.8 362.2L89.3 362.3L89.8 362.4L90.3 362.4L90.8 362.4L91.3 362.4L91.8 362.4L92.3 362.4L92.8 362.4L93.3 362.4L93.8 362.4L94.3 362.3L94.8 362.2L95.3 362.0L95.8 361.5L96.3 360.5L96.8 358.9L97.3 356.5L97.8 353.4L98.3 350.0L98.8 346.9L99.3 344.8L99.8 344.2L100.3 345.4L100.8 348.0L101.3 351.3L101.8 354.6L102.3 357.4L102.8 359.1L103.3 359.9L103.8 359.6L104.3 358.1L104.8 355.6L105.3 352.2L105.8 348.4L106.3 344.9L106.8 342.5L107.3 341.9L107.8 343.3L108.3 346.2L108.8 350.0L109.3 353.7L109.8 356.8L110.3 358.9L110.8 360.0L111.3 359.9L111.8 358.7L112.3 356.3L112.8 352.7L113.3 348.2L113.8 343.6L114.3 339.8L114.8 337.7L115.3 337.9L115.8 340.4L116.3 344.5L116.8 349.2L117.3 353.5L117.8 357.0L118.3 359.4L118.8 360.9L119.3 361.7L119.8 362.1L120.3 362.3L120.8 362.4L121.3 362.4L121.8 362.4L122.3 362.4L122.8 362.4L123.3 362.4L123.8 362.4L124.3 362.4L124.8 362.4L125.3 362.4L125.8 362.4L126.3 362.4L126.8 362.4L127.3 362.4L127.8 362.4L128.3 362.4L128.8 362.4L129.3 362.4L129.8 362.4L130.3 362.4L130.8 362.4L131.3 362.4L131.8 362.4L132.3 362.4L132.8 362.4L133.3 362.4L133.8 362.4L134.3 362.4L134.8 362.4L135.3 362.4L135.8 362.4L136.3 362.4L136.8 362.4L137.3 362.4L137.8 362.4L138.3 362.4L138.8 362.4L139.3 362.4L139.8 362.4L140.3 362.4L140.8 362.4L141.3 362.4L141.8 362.4L142.3 362.4L142.8 362.4L143.3 362.4L143.8 362.4L144.3 362.4L144.8 362.4L145.3 362.4L145.8 362.4L146.3 362.4L146.8 362.4L147.3 362.4L147.8 362.4L148.3 362.4L148.8 362.4L149.3 362.4L149.8 362.4L150.3 362.4L150.8 362.4L151.3 362.4L151.8 362.4L152.3 362.4L152.8 362.4L153.3 362.4L153.8 362.4L154.3 362.4L154.8 362.4L155.3 362.4L155.8 362.4L156.3 362.4L156.8 362.4L157.3 362.4L157.8 362.4L158.3 362.4L158.8 362.4L159.3 362.4L159.8 362.3L160.3 362.1L160.8 361.7L161.3 360.8L161.8 359.1L162.3 356.2L162.8 351.7L163.3 345.8L163.8 339.1L164.3 332.6L164.8 327.9L165.3 326.2L165.8 327.9L166.3 332.6L166.8 339.1L167.3 345.8L167.8 351.7L168.3 356.2L168.8 359.1L169.3 360.8L169.8 361.7L170.3 362.1L170.8 362.3L171.3 362.4L171.8 362.4L172.3 362.4L172.8 362.4L173.3 362.4L173.8 362.4L174.3 362.4L174.8 362.4L175.3 362.4L175.8 362.4L176.3 362.4L176.8 362.4L177.3 362.4L177.8 362.4L178.3 362.4L178.8 362.4L179.3 362.4L179.8 362.4L180.3 362.4L180.8 362.4L181.3 362.4L181.8 362.4L182.3 362.4L182.8 362.4L183.3 362.4L183.8 362.4L184.3 362.4L184.8 362.4L185.3 362.4L185.8 362.4L186.3 362.4L186.8 362.4L187.3 362.4L187.8 362.4L188.3 362.4L188.8 362.4L189.3 362.4L189.8 362.4L190.3 362.4L190.8 362.4L191.3 362.4L191.8 362.4L192.3 362.4L192.8 362.4L193.3 362.4L193.8 362.4L194.3 362.4L194.8 362.4L195.3 362.4L195.8 362.4L196.3 362.4L196.8 362.4L197.3 362.4L197.8 362.4L198.3 362.4L198.8 362.4L199.3 362.4L199.8 362.4L200.3 362.4L200.8 362.4L201.3 362.4L201.8 362.4L202.3 362.4L202.8 362.4L203.3 362.4L203.8 362.4L204.3 362.4L204.8 362.4L205.3 362.4L205.8 362.4L206.3 362.4L206.8 362.4L207.3 362.4L207.8 362.4L208.3 362.4L208.8 362.4L209.3 362.4L209.8 362.4L210.3 362.4L210.8 362.4L211.3 362.4L211.8 362.4L212.3 362.4L212.8 362.4L213.3 362.4L213.8 362.4L214.3 362.4L214.8 362.4L215.3 362.4L215.8 362.4L216.3 362.4L216.8 362.4L217.3 362.4L217.8 362.4L218.3 362.4L218.8 362.4L219.3 362.4L219.8 362.4L220.3 362.4L220.8 362.4L221.3 362.4L221.8 362.4L222.3 362.4L222.8 362.4L223.3 362.4L223.8 362.4L224.3 362.4L224.8 362.4L225.3 362.4L225.8 362.4L226.3 362.4L226.8 362.4L227.3 362.4L227.8 362.4L228.3 362.4L228.8 362.4L229.3 362.4L229.8 362.4L230.3 362.4L230.8 362.4L231.3 362.4L231.8 362.4L232.3 362.4L232.8 362.4L233.3 362.4L233.8 362.4L234.3 362.4L234.8 362.4L235.3 362.4L235.8 362.4L236.3 362.4L236.8 362.4L237.3 362.4L237.8 362.4L238.3 362.4L238.8 362.4L239.3 362.4L239.8 362.4L240.3 362.4L240.8 362.4L241.3 362.4L241.8 362.4L242.3 362.4L242.8 362.4L243.3 362.4L243.8 362.4L244.3 362.4L244.8 362.4L245.3 362.4L245.8 362.4L246.3 362.4L246.8 362.4L247.3 362.3L247.8 362.1L248.3 361.5L248.8 360.5L249.3 358.5L249.8 355.1L250.3 350.2L250.8 343.8L251.3 336.8L251.8 330.3L252.3 326.0L252.8 324.9L253.3 327.4L253.8 332.7L254.3 339.6L254.8 346.5L255.3 352.4L255.8 356.6L256.3 359.4L256.8 361.0L257.3 361.8L257.8 362.2L258.3 362.3L258.8 362.4L259.3 362.4L259.8 362.4L260.3 362.4L260.8 362.4L261.3 362.4L261.8 362.4L262.3 362.4" fill="none" stroke="#a8c0a6" stroke-width="0.8"/>
<path d="M18.8 362.4L19.3 362.4L19.8 362.4L20.3 362.4L20.8 362.4L21.3 362.4L21.8 362.4L22.3 362.4L22.8 362.4L23.3 362.4L23.8 362.4L24.3 362.4L24.8 362.4L25.3 362.4L25.8 362.4L26.3 362.4L26.8 362.4L27.3 362.4L27.8 362.4L28.3 362.4L28.8 362.4L29.3 362.4L29.8 362.4L30.3 362.4L30.8 362.4L31.3 362.4L31.8 362.4L32.3 362.4L32.8 362.4L33.3 362.4L33.8 362.4L34.3 362.4L34.8 362.4L35.3 362.4L35.8 362.4L36.3 362.4L36.8 362.4L37.3 362.4L37.8 362.4L38.3 362.4L38.8 362.4L39.3 362.4L39.8 362.3L40.3 362.1L40.8 361.7L41.3 360.7L41.8 359.1L42.3 356.4L42.8 352.5L43.3 347.7L43.8 342.5L44.3 338.0L44.8 335.2L45.3 334.9L45.8 337.2L46.3 341.5L46.8 346.6L47.3 351.6L47.8 355.6L48.3 358.4L48.8 359.9L49.3 360.2L49.8 359.4L50.3 357.4L50.8 354.3L51.3 350.1L51.8 345.4L52.3 341.1L52.8 338.3L53.3 337.5L53.8 339.2L54.3 342.7L54.8 347.3L55.3 351.8L55.8 355.6L56.3 358.1L56.8 359.4L57.3 359.3L57.8 357.8L58.3 354.8L58.8 350.6L59.3 345.6L59.8 340.5L60.3 336.6L60.8 334.8L61.3 335.6L61.8 338.7L62.3 343.5L62.8 348.7L63.3 353.3L63.8 356.6L64.3 358.6L64.8 359.0L65.3 358.0L65.8 355.6L66.3 352.0L66.8 347.6L67.3 343.1L67.8 339.7L68.3 338.0L68.8 338.8L69.3 341.6L69.8 345.8L70.3 350.3L70.8 354.5L71.3 357.7L71.8 359.8L72.3 361.1L72.8 361.8L73.3 362.2L73.8 362.3L74.3 362.4L74.8 362.4L75.3 362.4L75.8 362.4L76.3 362.4L76.8 362.4L77.3 362.4L77.8 362.4L78.3 362.4L78.8 362.4L79.3 362.4L79.8 362.4L80.3 362.4L80.8 362.4L81.3 362.4L81.8 362.4L82.3 362.4L82.8 362.4L83.3 362.4L83.8 362.4L84.3 362.4L84.8 362.4L85.3 362.4L85.8 362.4L86.3 362.4L86.8 362.3L87.3 362.1L87.8 361.8L88.3 361.1L88.8 359.8L89.3 357.8L89.8 355.0L90.3 351.5L90.8 348.0L91.3 345.0L91.8 343.4L92.3 343.6L92.8 345.5L93.3 348.7L93.8 352.3L94.3 355.6L94.8 358.3L95.3 360.1L95.8 361.3L96.3 361.9L96.8 362.2L97.3 362.3L97.8 362.4L98.3 362.4L98.8 362.4L99.3 362.4L99.8 362.4L100.3 362.4L100.8 362.4L101.3 362.4L101.8 362.4L102.3 362.4L102.8 362.4L103.3 362.4L103.8 362.4L104.3 362.4L104.8 362.4L105.3 362.4L105.8 362.4L106.3 362.4L106.8 362.4L107.3 362.4L107.8 362.4L108.3 362.4L108.8 362.4L109.3 362.4L109.8 362.4L110.3 362.4L110.8 362.4L111.3 362.4L111.8 362.4L112.3 362.4L112.8 362.4L113.3 362.4L113.8 362.4L114.3 362.4L114.8 362.4L115.3 362.4L115.8 362.4L116.3 362.4L116.8 362.4L117.3 362.4L117.8 362.4L118.3 362.4L118.8 362.4L119.3 362.4L119.8 362.4L120.3 362.4L120.8 362.4L121.3 362.4L121.8 362.4L122.3 362.4L122.8 362.4L123.3 362.4L123.8 362.4L124.3 362.4L124.8 362.4L125.3 362.4L125.8 362.4L126.3 362.3L126.8 362.1L127.3 361.8L127.8 361.0L128.3 359.7L128.8 357.7L129.3 354.7L129.8 351.2L130.3 347.5L130.8 344.5L131.3 342.9L131.8 343.0L132.3 345.0L132.8 348.2L133.3 351.9L133.8 355.4L134.3 358.1L134.8 359.9L135.3 360.9L135.8 361.0L136.3 360.5L136.8 359.3L137.3 357.4L137.8 355.0L138.3 352.4L138.8 350.1L139.3 348.7L139.8 348.6L140.3 349.8L140.8 351.9L141.3 354.5L141.8 357.0L142.3 359.1L142.8 360.5L143.3 361.4L143.8 362.0L144.3 362.2L144.8 362.3L145.3 362.4L145.8 362.4L146.3 362.4L146.8 362.4L147.3 362.4L147.8 362.4L148.3 362.4L148.8 362.4L149.3 362.4L149.8 362.4L150.3 362.4L150.8 362.4L151.3 362.4L151.8 362.4L152.3 362.4L152.8 362.4L153.3 362.4L153.8 362.4L154.3 362.4L154.8 362.4L155.3 362.4L155.8 362.4L156.3 362.4L156.8 362.4L157.3 362.4L157.8 362.4L158.3 362.4L158.8 362.4L159.3 362.4L159.8 362.4L160.3 362.4L160.8 362.4L161.3 362.4L161.8 362.4L162.3 362.4L162.8 362.4L163.3 362.4L163.8 362.4L164.3 362.4L164.8 362.4L165.3 362.4L165.8 362.4L166.3 362.4L166.8 362.4L167.3 362.4L167.8 362.4L168.3 362.4L168.8 362.4L169.3 362.4L169.8 362.4L170.3 362.4L170.8 362.4L171.3 362.4L171.8 362.4L172.3 362.4L172.8 362.4L173.3 362.4L173.8 362.4L174.3 362.4L174.8 362.4L175.3 362.4L175.8 362.4L176.3 362.4L176.8 362.4L177.3 362.4L177.8 362.4L178.3 362.4L178.8 362.4L179.3 362.4L179.8 362.4L180.3 362.4L180.8 362.4L181.3 362.4L181.8 362.4L182.3 362.4L182.8 362.4L183.3 362.4L183.8 362.4L184.3 362.4L184.8 362.4L185.3 362.4L185.8 362.4L186.3 362.4L186.8 362.4L187.3 362.4L187.8 362.4L188.3 362.4L188.8 362.4L189.3 362.4L189.8 362.4L190.3 362.4L190.8 362.4L191.3 362.4L191.8 362.4L192.3 362.4L192.8 362.4L193.3 362.4L193.8 362.4L194.3 362.4L194.8 362.4L195.3 362.4L195.8 362.4L196.3 362.4L196.8 362.4L197.3 362.4L197.8 362.4L198.3 362.4L198.8 362.4L199.3 362.4L199.8 362.4L200.3 362.4L200.8 362.4L201.3 362.4L201.8 362.4L202.3 362.4L202.8 362.4L203.3 362.4L203.8 362.4L204.3 362.4L204.8 362.4L205.3 362.4L205.8 362.4L206.3 362.4L206.8 362.4L207.3 362.4L207.8 362.4L208.3 362.4L208.8 362.4L209.3 362.4L209.8 362.4L210.3 362.4L210.8 362.4L211.3 362.4L211.8 362.4L212.3 362.4L212.8 362.4L213.3 362.4L213.8 362.4L214.3 362.4L214.8 362.4L215.3 362.4L215.8 362.4L216.3 362.4L216.8 362.4L217.3 362.4L217.8 362.4L218.3 362.4L218.8 362.4L219.3 362.4L219.8 362.4L220.3 362.4L220.8 362.4L221.3 362.4L221.8 362.4L222.3 362.4L222.8 362.4L223.3 362.4L223.8 362.4L224.3 362.4L224.8 362.4L225.3 362.4L225.8 362.4L226.3 362.4L226.8 362.4L227.3 362.4L227.8 362.4L228.3 362.4L228.8 362.4L229.3 362.4L229.8 362.4L230.3 362.4L230.8 362.4L231.3 362.4L231.8 362.4L232.3 362.4L232.8 362.4L233.3 362.4L233.8 362.4L234.3 362.4L234.8 362.4L235.3 362.4L235.8 362.4L236.3 362.4L236.8 362.4L237.3 362.4L237.8 362.4L238.3 362.4L238.8 362.4L239.3 362.4L239.8 362.4L240.3 362.4L240.8 362.4L241.3 362.4L241.8 362.4L242.3 362.4L242.8 362.4L243.3 362.4L243.8 362.4L244.3 362.4L244.8 362.4L245.3 362.4L245.8 362.4L246.3 362.4L246.8 362.4L247.3 362.4L247.8 362.4L248.3 362.4L248.8 362.4L249.3 362.4L249.8 362.4L250.3 362.4L250.8 362.4L251.3 362.4L251.8 362.4L252.3 362.4L252.8 362.4L253.3 362.4L253.8 362.4L254.3 362.4L254.8 362.4L255.3 362.4L255.8 362.4L256.3 362.4L256.8 362.4L257.3 362.4L257.8 362.4L258.3 362.4L258.8 362.4L259.3 362.4L259.8 362.4L260.3 362.4L260.8 362.4L261.3 362.4L261.8 362.4L262.3 362.4" fill="none" stroke="#8e8ed0" stroke-width="0.8"/>
<path d="M18.8 362.4L19.3 362.4L19.8 362.4L20.3 362.4L20.8 362.4L21.3 362.4L21.8 362.4L22.3 362.4L22.8 362.4L23.3 362.4L23.8 362.4L24.3 362.4L24.8 362.4L25.3 362.4L25.8 362.4L26.3 362.4L26.8 362.4L27.3 362.4L27.8 362.4L28.3 362.4L28.8 362.4L29.3 362.4L29.8 362.4L30.3 362.4L30.8 362.4L31.3 362.3L31.8 362.2L32.3 361.9L32.8 361.2L33.3 360.1L33.8 358.3L34.3 355.8L34.8 352.7L35.3 349.5L35.8 346.9L36.3 345.4L36.8 345.6L37.3 347.3L37.8 350.1L38.3 353.3L38.8 356.3L39.3 358.7L39.8 360.4L40.3 361.4L40.8 361.9L41.3 362.2L41.8 362.3L42.3 362.4L42.8 362.4L43.3 362.4L43.8 362.4L44.3 362.4L44.8 362.4L45.3 362.4L45.8 362.4L46.3 362.4L46.8 362.4L47.3 362.4L47.8 362.4L48.3 362.4L48.8 362.4L49.3 362.4L49.8 362.4L50.3 362.4L50.8 362.4L51.3 362.4L51.8 362.4L52.3 362.4L52.8 362.4L53.3 362.4L53.8 362.4L54.3 362.4L54.8 362.4L55.3 362.4L55.8 362.4L56.3 362.4L56.8 362.4L57.3 362.4L57.8 362.4L58.3 362.4L58.8 362.4L59.3 362.4L59.8 362.4L60.3 362.4L60.8 362.4L61.3 362.4L61.8 362.4L62.3 362.4L62.8 362.4L63.3 362.4L63.8 362.4L64.3 362.4L64.8 362.4L65.3 362.4L65.8 362.4L66.3 362.4L66.8 362.4L67.3 362.4L67.8 362.4L68.3 362.4L68.8 362.4L69.3 362.4L69.8 362.4L70.3 362.4L70.8 362.4L71.3 362.4L71.8 362.4L72.3 362.4L72.8 362.4L73.3 362.4L73.8 362.4L74.3 362.4L74.8 362.4L75.3 362.4L75.8 362.4L76.3 362.4L76.8 362.4L77.3 362.4L77.8 362.4L78.3 362.4L78.8 362.4L79.3 362.4L79.8 362.4L80.3 362.4L80.8 362.4L81.3 362.4L81.8 362.4L82.3 362.4L82.8 362.4L83.3 362.4L83.8 362.4L84.3 362.4L84.8 362.4L85.3 362.4L85.8 362.4L86.3 362.4L86.8 362.4L87.3 362.4L87.8 362.4L88.3 362.4L88.8 362.4L89.3 362.4L89.8 362.4L90.3 362.4L90.8 362.4L91.3 362.4L91.8 362.4L92.3 362.4L92.8 362.4L93.3 362.4L93.8 362.4L94.3 362.4L94.8 362.4L95.3 362.4L95.8 362.4L96.3 362.4L96.8 362.4L97.3 362.4L97.8 362.4L98.3 362.4L98.8 362.4L99.3 362.4L99.8 362.4L100.3 362.4L100.8 362.4L101.3 362.4L101.8 362.4L102.3 362.4L102.8 362.4L103.3 362.4L103.8 362.4L104.3 362.4L104.8 362.4L105.3 362.4L105.8 362.4L106.3 362.4L106.8 362.4L107.3 362.4L107.8 362.4L108.3 362.4L108.8 362.4L109.3 362.4L109.8 362.4L110.3 362.4L110.8 362.4L111.3 362.4L111.8 362.4L112.3 362.4L112.8 362.4L113.3 362.4L113.8 362.4L114.3 362.4L114.8 362.4L115.3 362.4L115.8 362.4L116.3 362.4L116.8 362.4L117.3 362.4L117.8 362.4L118.3 362.4L118.8 362.4L119.3 362.4L119.8 362.4L120.3 362.4L120.8 362.4L121.3 362.4L121.8 362.4L122.3 362.4L122.8 362.4L123.3 362.4L123.8 362.4L124.3 362.4L124.8 362.4L125.3 362.4L125.8 362.4L126.3 362.4L126.8 362.4L127.3 362.4L127.8 362.4L128.3 362.4L128.8 362.4L129.3 362.4L129.8 362.4L130.3 362.4L130.8 362.4L131.3 362.4L131.8 362.4L132.3 362.4L132.8 362.4L133.3 362.4L133.8 362.4L134.3 362.4L134.8 362.4L135.3 362.4L135.8 362.4L136.3 362.4L136.8 362.4L137.3 362.4L137.8 362.4L138.3 362.4L138.8 362.4L139.3 362.4L139.8 362.4L140.3 362.4L140.8 362.4L141.3 362.4L141.8 362.4L142.3 362.4L142.8 362.4L143.3 362.4L143.8 362.4L144.3 362.4L144.8 362.4L145.3 362.4L145.8 362.4L146.3 362.4L146.8 362.4L147.3 362.4L147.8 362.4L148.3 362.4L148.8 362.4L149.3 362.4L149.8 362.4L150.3 362.4L150.8 362.4L151.3 362.4L151.8 362.4L152.3 362.4L152.8 362.4L153.3 362.4L153.8 362.4L154.3 362.4L154.8 362.4L155.3 362.4L155.8 362.4L156.3 362.4L156.8 362.4L157.3 362.4L157.8 362.4L158.3 362.4L158.8 362.4L159.3 362.4L159.8 362.4L160.3 362.4L160.8 362.4L161.3 362.4L161.8 362.4L162.3 362.4L162.8 362.4L163.3 362.4L163.8 362.4L164.3 362.4L164.8 362.4L165.3 362.4L165.8 362.4L166.3 362.4L166.8 362.4L167.3 362.4L167.8 362.4L168.3 362.4L168.8 362.4L169.3 362.4L169.8 362.4L170.3 362.4L170.8 362.4L171.3 362.4L171.8 362.4L172.3 362.4L172.8 362.4L173.3 362.4L173.8 362.4L174.3 362.4L174.8 362.4L175.3 362.3L175.8 362.1L176.3 361.8L176.8 361.0L177.3 359.6L177.8 357.4L178.3 354.1L178.8 350.1L179.3 345.7L179.8 341.9L180.3 339.6L180.8 339.4L181.3 341.3L181.8 344.9L182.3 349.2L182.8 353.3L183.3 356.7L183.8 359.0L184.3 360.1L184.8 360.0L185.3 358.8L185.8 356.3L186.3 352.6L186.8 347.8L187.3 342.6L187.8 338.1L188.3 335.4L188.8 335.1L189.3 337.4L189.8 341.6L190.3 346.7L190.8 351.7L191.3 355.6L191.8 358.3L192.3 359.5L192.8 359.4L193.3 358.0L193.8 355.3L194.3 351.3L194.8 346.6L195.3 341.8L195.8 338.1L196.3 336.4L196.8 337.1L197.3 340.1L197.8 344.6L198.3 349.5L198.8 353.9L199.3 357.2L199.8 359.3L200.3 360.1L200.8 359.8L201.3 358.2L201.8 355.4L202.3 351.1L202.8 346.0L203.3 340.6L203.8 336.1L204.3 333.7L204.8 334.0L205.3 336.9L205.8 341.6L206.3 347.0L206.8 352.0L207.3 355.9L207.8 358.4L208.3 359.4L208.8 359.0L209.3 357.2L209.8 353.9L210.3 349.4L210.8 344.1L211.3 339.0L211.8 335.4L212.3 334.0L212.8 335.4L213.3 339.0L213.8 344.1L214.3 349.4L214.8 354.0L215.3 357.5L215.8 359.8L216.3 361.2L216.8 361.9L217.3 362.2L217.8 362.3L218.3 362.4L218.8 362.4L219.3 362.4L219.8 362.4L220.3 362.4L220.8 362.4L221.3 362.4L221.8 362.4L222.3 362.4L222.8 362.4L223.3 362.4L223.8 362.3L224.3 362.1L224.8 361.7L225.3 360.9L225.8 359.5L226.3 357.2L226.8 354.0L227.3 350.1L227.8 346.0L228.3 342.7L228.8 340.9L229.3 341.1L229.8 343.2L230.3 346.8L230.8 350.9L231.3 354.6L231.8 357.5L232.3 359.3L232.8 360.0L233.3 359.5L233.8 357.8L234.3 354.8L234.8 350.7L235.3 346.0L235.8 341.5L236.3 338.2L236.8 337.0L237.3 338.2L237.8 341.5L238.3 346.0L238.8 350.8L239.3 354.9L239.8 358.0L240.3 360.1L240.8 361.3L241.3 361.9L241.8 362.2L242.3 362.3L242.8 362.4L243.3 362.4L243.8 362.4L244.3 362.4L244.8 362.4L245.3 362.4L245.8 362.4L246.3 362.4L246.8 362.4L247.3 362.4L247.8 362.4L248.3 362.4L248.8 362.4L249.3 362.4L249.8 362.4L250.3 362.4L250.8 362.4L251.3 362.4L251.8 362.4L252.3 362.4L252.8 362.4L253.3 362.4L253.8 362.4L254.3 362.4L254.8 362.4L255.3 362.3L255.8 362.1L256.3 361.7L256.8 360.8L257.3 359.3L257.8 356.8L258.3 353.4L258.8 349.2L259.3 344.9L259.8 341.3L260.3 339.4L260.8 339.6L261.3 341.9L261.8 345.7L262.3 350.1" fill="none" stroke="#dc9898" stroke-width="0.8"/>
<path d="M18.8 362.59999999999997H262.4" stroke="#6a6a6a" stroke-width="0.7"/>
<path d="M18.8 364.7H262.4" stroke="#f0cccc" stroke-width="0.6"/>
</g>
<rect x="17.8" y="292.3" width="245.59999999999997" height="78.30000000000001" fill="none" stroke="#000" stroke-width="1.5"/>
<text x="293.2" y="287.5" font-size="10" font-weight="bold" fill="#111" stroke="#111" stroke-width="0.25" textLength="40.9" lengthAdjust="spacingAndGlyphs">Case # 4</text>
<text x="365.2" y="287.6" font-size="10" font-weight="bold" fill="#111" stroke="#111" stroke-width="0.25" textLength="52.4" lengthAdjust="spacingAndGlyphs">c.2807C&gt;G</text>
<text x="427.2" y="287.6" font-size="10" font-weight="bold" fill="#111" stroke="#111" stroke-width="0.25" textLength="39.7" lengthAdjust="spacingAndGlyphs">p.A936G</text>
<clipPath id="c4"><rect x="287.65" y="292.5" width="224.45000000000005" height="78.80000000000001"/></clipPath><g clip-path="url(#c4)">
<rect x="394.1" y="292.5" width="10.5" height="73.39999999999998" fill="#c6d8f6"/>
<path d="M288.65 296.6H511.1" stroke="#c4c8c4" stroke-width="0.6" stroke-dasharray="1 1"/>
<path d="M289.6 294.3V297.8M297.3 294.3V297.8M308.8 294.3V297.8M316.9 294.3V297.8M326.7 294.3V297.8M336.1 294.3V297.8M345.6 294.3V297.8M356.3 294.3V297.8M366.3 294.3V297.8M377.9 294.3V297.8M388.6 294.3V297.8M410.2 294.3V297.8M421.7 294.3V297.8M429.4 294.3V297.8M438.9 294.3V297.8M449 294.3V297.8M458.2 294.3V297.8M470.5 294.3V297.8M481.2 294.3V297.8M490.7 294.3V297.8M500.7 294.3V297.8M510.8 294.3V297.8" stroke="#686868" stroke-width="0.9"/>
<text x="289.6" y="305.6" font-size="5.8" font-weight="bold" fill="#a2aa92" text-anchor="middle" >A</text>
<text x="297.3" y="305.6" font-size="5.8" font-weight="bold" fill="#404040" text-anchor="middle" >C</text>
<text x="308.8" y="305.6" font-size="5.8" font-weight="bold" fill="#404040" text-anchor="middle" >C</text>
<text x="316.9" y="305.6" font-size="5.8" font-weight="bold" fill="#a2aa92" text-anchor="middle" >A</text>
<text x="326.7" y="305.6" font-size="5.8" font-weight="bold" fill="#404040" text-anchor="middle" >C</text>
<text x="336.1" y="305.6" font-size="5.8" font-weight="bold" fill="#a2aa92" text-anchor="middle" >A</text>
<text x="345.6" y="305.6" font-size="5.8" font-weight="bold" fill="#b88888" text-anchor="middle" >T</text>
<text x="356.3" y="305.6" font-size="5.8" font-weight="bold" fill="#a2aa92" text-anchor="middle" >A</text>
<text x="366.3" y="305.6" font-size="5.8" font-weight="bold" fill="#b88888" text-anchor="middle" >T</text>
<text x="377.9" y="305.6" font-size="5.8" font-weight="bold" fill="#303030" text-anchor="middle" >G</text>
<text x="388.6" y="305.6" font-size="5.8" font-weight="bold" fill="#303030" text-anchor="middle" >G</text>
<rect x="394.1" y="292.5" width="10.5" height="10.600000000000023" fill="#e2eaf8"/>
<rect x="397.1" y="296.20000000000005" width="4.8" height="6.8" fill="#b8c4e2"/>
<text x="399.5" y="301.40000000000003" font-size="5" font-weight="bold" fill="#223" text-anchor="middle" >K</text>
<text x="410.2" y="305.6" font-size="5.8" font-weight="bold" fill="#404040" text-anchor="middle" >C</text>
<text x="421.7" y="305.6" font-size="5.8" font-weight="bold" fill="#b88888" text-anchor="middle" >T</text>
<text x="429.4" y="305.6" font-size="5.8" font-weight="bold" fill="#a2aa92" text-anchor="middle" >A</text>
<text x="438.9" y="305.6" font-size="5.8" font-weight="bold" fill="#404040" text-anchor="middle" >C</text>
<text x="449" y="305.6" font-size="5.8" font-weight="bold" fill="#a2aa92" text-anchor="middle" >A</text>
<text x="458.2" y="305.6" font-size="5.8" font-weight="bold" fill="#404040" text-anchor="middle" >C</text>
<text x="470.5" y="305.6" font-size="5.8" font-weight="bold" fill="#404040" text-anchor="middle" >C</text>
<text x="481.2" y="305.6" font-size="5.8" font-weight="bold" fill="#b88888" text-anchor="middle" >T</text>
<text x="490.7" y="305.6" font-size="5.8" font-weight="bold" fill="#a2aa92" text-anchor="middle" >A</text>
<text x="500.7" y="305.6" font-size="5.8" font-weight="bold" fill="#404040" text-anchor="middle" >C</text>
<text x="510.8" y="305.6" font-size="5.8" font-weight="bold" fill="#404040" text-anchor="middle" >C</text>
<text x="309.4" y="312.8" font-size="6" font-weight="bold" fill="#333" text-anchor="middle" >140</text>
<text x="410.2" y="312.8" font-size="6" font-weight="bold" fill="#333" text-anchor="middle" >150</text>
<rect x="288.65" y="368.0" width="222.45000000000005" height="2.1" fill="#f3f1f1"/>
<rect x="320.3" y="367.5" width="4.300000000000011" height="2.5" fill="#b8c8f0"/>
<path d="M288.6 365.4L289.1 365.4L289.6 365.4L290.1 365.4L290.6 365.4L291.1 365.4L291.6 365.4L292.1 365.4L292.6 365.4L293.1 365.4L293.6 365.4L294.1 365.4L294.6 365.4L295.1 365.4L295.6 365.4L296.1 365.4L296.6 365.4L297.1 365.4L297.6 365.4L298.1 365.4L298.6 365.4L299.1 365.4L299.6 365.4L300.1 365.4L300.6 365.4L301.1 365.4L301.6 365.4L302.1 365.4L302.6 365.4L303.1 365.4L303.6 365.4L304.1 365.4L304.6 365.4L305.1 365.4L305.6 365.4L306.1 365.4L306.6 365.4L307.1 365.4L307.6 365.4L308.1 365.4L308.6 365.4L309.1 365.4L309.6 365.4L310.1 365.4L310.6 365.4L311.1 365.4L311.6 365.4L312.1 365.4L312.6 365.4L313.1 365.4L313.6 365.4L314.1 365.4L314.6 365.4L315.1 365.4L315.6 365.4L316.1 365.4L316.6 365.4L317.1 365.4L317.6 365.4L318.1 365.4L318.6 365.4L319.1 365.4L319.6 365.4L320.1 365.4L320.6 365.4L321.1 365.4L321.6 365.4L322.1 365.4L322.6 365.4L323.1 365.4L323.6 365.4L324.1 365.4L324.6 365.4L325.1 365.4L325.6 365.4L326.1 365.4L326.6 365.4L327.1 365.4L327.6 365.4L328.1 365.4L328.6 365.4L329.1 365.4L329.6 365.4L330.1 365.4L330.6 365.4L331.1 365.4L331.6 365.4L332.1 365.4L332.6 365.4L333.1 365.4L333.6 365.4L334.1 365.4L334.6 365.4L335.1 365.4L335.6 365.4L336.1 365.4L336.6 365.4L337.1 365.4L337.6 365.4L338.1 365.4L338.6 365.4L339.1 365.4L339.6 365.4L340.1 365.4L340.6 365.4L341.1 365.4L341.6 365.4L342.1 365.4L342.6 365.4L343.1 365.4L343.6 365.4L344.1 365.4L344.6 365.4L345.1 365.4L345.6 365.4L346.1 365.4L346.6 365.4L347.1 365.4L347.6 365.4L348.1 365.4L348.6 365.4L349.1 365.4L349.6 365.4L350.1 365.4L350.6 365.4L351.1 365.4L351.6 365.4L352.1 365.4L352.6 365.4L353.1 365.4L353.6 365.4L354.1 365.4L354.6 365.4L355.1 365.4L355.6 365.4L356.1 365.4L356.6 365.4L357.1 365.4L357.6 365.4L358.1 365.4L358.6 365.4L359.1 365.4L359.6 365.4L360.1 365.4L360.6 365.4L361.1 365.4L361.6 365.4L362.1 365.4L362.6 365.4L363.1 365.4L363.6 365.4L364.1 365.4L364.6 365.4L365.1 365.4L365.6 365.4L366.1 365.4L366.6 365.4L367.1 365.4L367.6 365.4L368.1 365.4L368.6 365.4L369.1 365.4L369.6 365.4L370.1 365.3L370.6 365.2L371.1 364.9L371.6 364.4L372.1 363.6L372.6 362.3L373.1 360.2L373.6 357.4L374.1 353.6L374.6 349.0L375.1 343.8L375.6 338.7L376.1 334.1L376.6 330.7L377.1 329.1L377.6 329.5L378.1 331.9L378.6 335.8L379.1 340.7L379.6 345.9L380.1 350.9L380.6 355.2L381.1 358.5L381.6 360.9L382.1 362.5L382.6 363.2L383.1 363.1L383.6 362.3L384.1 360.6L384.6 357.9L385.1 354.2L385.6 349.5L386.1 344.1L386.6 338.3L387.1 332.9L387.6 328.6L388.1 326.1L388.6 325.6L389.1 327.4L389.6 331.1L390.1 336.1L390.6 341.8L391.1 347.4L391.6 352.4L392.1 356.6L392.6 359.7L393.1 361.9L393.6 363.3L394.1 364.0L394.6 364.3L395.1 364.3L395.6 363.9L396.1 363.3L396.6 362.4L397.1 361.4L397.6 360.4L398.1 359.4L398.6 358.6L399.1 358.1L399.6 358.0L400.1 358.3L400.6 359.0L401.1 360.0L401.6 361.0L402.1 362.1L402.6 363.0L403.1 363.8L403.6 364.3L404.1 364.8L404.6 365.0L405.1 365.2L405.6 365.3L406.1 365.4L406.6 365.4L407.1 365.4L407.6 365.4L408.1 365.4L408.6 365.4L409.1 365.4L409.6 365.4L410.1 365.4L410.6 365.4L411.1 365.4L411.6 365.4L412.1 365.4L412.6 365.4L413.1 365.4L413.6 365.4L414.1 365.4L414.6 365.4L415.1 365.4L415.6 365.4L416.1 365.4L416.6 365.4L417.1 365.4L417.6 365.4L418.1 365.4L418.6 365.4L419.1 365.4L419.6 365.4L420.1 365.4L420.6 365.4L421.1 365.4L421.6 365.4L422.1 365.4L422.6 365.4L423.1 365.4L423.6 365.4L424.1 365.4L424.6 365.4L425.1 365.4L425.6 365.4L426.1 365.4L426.6 365.4L427.1 365.4L427.6 365.4L428.1 365.4L428.6 365.4L429.1 365.4L429.6 365.4L430.1 365.4L430.6 365.4L431.1 365.4L431.6 365.4L432.1 365.4L432.6 365.4L433.1 365.4L433.6 365.4L434.1 365.4L434.6 365.4L435.1 365.4L435.6 365.4L436.1 365.4L436.6 365.4L437.1 365.4L437.6 365.4L438.1 365.4L438.6 365.4L439.1 365.4L439.6 365.4L440.1 365.4L440.6 365.4L441.1 365.4L441.6 365.4L442.1 365.4L442.6 365.4L443.1 365.4L443.6 365.4L444.1 365.4L444.6 365.4L445.1 365.4L445.6 365.4L446.1 365.4L446.6 365.4L447.1 365.4L447.6 365.4L448.1 365.4L448.6 365.4L449.1 365.4L449.6 365.4L450.1 365.4L450.6 365.4L451.1 365.4L451.6 365.4L452.1 365.4L452.6 365.4L453.1 365.4L453.6 365.4L454.1 365.4L454.6 365.4L455.1 365.4L455.6 365.4L456.1 365.4L456.6 365.4L457.1 365.4L457.6 365.4L458.1 365.4L458.6 365.4L459.1 365.4L459.6 365.4L460.1 365.4L460.6 365.4L461.1 365.4L461.6 365.4L462.1 365.4L462.6 365.4L463.1 365.4L463.6 365.4L464.1 365.4L464.6 365.4L465.1 365.4L465.6 365.4L466.1 365.4L466.6 365.4L467.1 365.4L467.6 365.4L468.1 365.4L468.6 365.4L469.1 365.4L469.6 365.4L470.1 365.4L470.6 365.4L471.1 365.4L471.6 365.4L472.1 365.4L472.6 365.4L473.1 365.4L473.6 365.4L474.1 365.4L474.6 365.4L475.1 365.4L475.6 365.4L476.1 365.4L476.6 365.4L477.1 365.4L477.6 365.4L478.1 365.4L478.6 365.4L479.1 365.4L479.6 365.4L480.1 365.4L480.6 365.4L481.1 365.4L481.6 365.4L482.1 365.4L482.6 365.4L483.1 365.4L483.6 365.4L484.1 365.4L484.6 365.4L485.1 365.4L485.6 365.4L486.1 365.4L486.6 365.4L487.1 365.4L487.6 365.4L488.1 365.4L488.6 365.4L489.1 365.4L489.6 365.4L490.1 365.4L490.6 365.4L491.1 365.4L491.6 365.4L492.1 365.4L492.6 365.4L493.1 365.4L493.6 365.4L494.1 365.4L494.6 365.4L495.1 365.4L495.6 365.4L496.1 365.4L496.6 365.4L497.1 365.4L497.6 365.4L498.1 365.4L498.6 365.4L499.1 365.4L499.6 365.4L500.1 365.4L500.6 365.4L501.1 365.4L501.6 365.4L502.1 365.4L502.6 365.4L503.1 365.4L503.6 365.4L504.1 365.4L504.6 365.4L505.1 365.4L505.6 365.4L506.1 365.4L506.6 365.4L507.1 365.4L507.6 365.4L508.1 365.4L508.6 365.4L509.1 365.4L509.6 365.4L510.1 365.4L510.6 365.4" fill="none" stroke="#767676" stroke-width="0.8"/>
<path d="M288.6 337.7L289.1 335.4L289.6 334.7L290.1 335.7L290.6 338.3L291.1 342.0L291.6 346.3L292.1 350.7L292.6 354.7L293.1 358.0L293.6 360.6L294.1 362.5L294.6 363.7L295.1 364.5L295.6 364.9L296.1 365.2L296.6 365.3L297.1 365.4L297.6 365.4L298.1 365.4L298.6 365.4L299.1 365.4L299.6 365.4L300.1 365.4L300.6 365.4L301.1 365.4L301.6 365.4L302.1 365.4L302.6 365.4L303.1 365.4L303.6 365.4L304.1 365.4L304.6 365.4L305.1 365.4L305.6 365.4L306.1 365.4L306.6 365.4L307.1 365.4L307.6 365.4L308.1 365.4L308.6 365.4L309.1 365.4L309.6 365.3L310.1 365.2L310.6 365.1L311.1 364.7L311.6 364.2L312.1 363.4L312.6 362.1L313.1 360.4L313.6 358.2L314.1 355.7L314.6 352.9L315.1 350.3L315.6 348.1L316.1 346.6L316.6 346.2L317.1 346.8L317.6 348.5L318.1 350.8L318.6 353.5L319.1 356.2L319.6 358.7L320.1 360.8L320.6 362.4L321.1 363.6L321.6 364.3L322.1 364.8L322.6 365.1L323.1 365.3L323.6 365.3L324.1 365.4L324.6 365.4L325.1 365.4L325.6 365.4L326.1 365.4L326.6 365.4L327.1 365.4L327.6 365.4L328.1 365.4L328.6 365.4L329.1 365.3L329.6 365.2L330.1 365.0L330.6 364.6L331.1 364.0L331.6 363.0L332.1 361.5L332.6 359.5L333.1 356.9L333.6 353.8L334.1 350.5L334.6 347.4L335.1 344.7L335.6 343.0L336.1 342.5L336.6 343.3L337.1 345.2L337.6 348.0L338.1 351.2L338.6 354.4L339.1 357.4L339.6 359.9L340.1 361.8L340.6 363.2L341.1 364.1L341.6 364.7L342.1 365.0L342.6 365.2L343.1 365.3L343.6 365.4L344.1 365.4L344.6 365.4L345.1 365.4L345.6 365.4L346.1 365.4L346.6 365.4L347.1 365.4L347.6 365.4L348.1 365.4L348.6 365.4L349.1 365.3L349.6 365.2L350.1 365.0L350.6 364.6L351.1 364.0L351.6 362.9L352.1 361.2L352.6 358.9L353.1 355.9L353.6 352.2L354.1 348.1L354.6 343.9L355.1 340.2L355.6 337.5L356.1 336.2L356.6 336.5L357.1 338.4L357.6 341.6L358.1 345.5L358.6 349.7L359.1 353.7L359.6 357.2L360.1 359.9L360.6 362.0L361.1 363.4L361.6 364.3L362.1 364.8L362.6 365.1L363.1 365.3L363.6 365.3L364.1 365.4L364.6 365.4L365.1 365.4L365.6 365.4L366.1 365.4L366.6 365.4L367.1 365.4L367.6 365.4L368.1 365.4L368.6 365.4L369.1 365.4L369.6 365.4L370.1 365.4L370.6 365.4L371.1 365.4L371.6 365.4L372.1 365.4L372.6 365.4L373.1 365.4L373.6 365.4L374.1 365.4L374.6 365.4L375.1 365.4L375.6 365.4L376.1 365.4L376.6 365.4L377.1 365.4L377.6 365.4L378.1 365.4L378.6 365.4L379.1 365.4L379.6 365.4L380.1 365.4L380.6 365.4L381.1 365.4L381.6 365.4L382.1 365.4L382.6 365.4L383.1 365.4L383.6 365.4L384.1 365.4L384.6 365.4L385.1 365.4L385.6 365.4L386.1 365.4L386.6 365.4L387.1 365.4L387.6 365.4L388.1 365.4L388.6 365.4L389.1 365.4L389.6 365.4L390.1 365.4L390.6 365.4L391.1 365.4L391.6 365.4L392.1 365.4L392.6 365.4L393.1 365.4L393.6 365.4L394.1 365.4L394.6 365.4L395.1 365.4L395.6 365.4L396.1 365.4L396.6 365.4L397.1 365.4L397.6 365.4L398.1 365.4L398.6 365.4L399.1 365.4L399.6 365.4L400.1 365.4L400.6 365.4L401.1 365.4L401.6 365.4L402.1 365.4L402.6 365.4L403.1 365.4L403.6 365.4L404.1 365.4L404.6 365.4L405.1 365.4L405.6 365.4L406.1 365.4L406.6 365.4L407.1 365.4L407.6 365.4L408.1 365.4L408.6 365.4L409.1 365.4L409.6 365.4L410.1 365.4L410.6 365.4L411.1 365.4L411.6 365.4L412.1 365.4L412.6 365.4L413.1 365.4L413.6 365.4L414.1 365.4L414.6 365.4L415.1 365.4L415.6 365.4L416.1 365.4L416.6 365.4L417.1 365.4L417.6 365.4L418.1 365.4L418.6 365.4L419.1 365.4L419.6 365.4L420.1 365.4L420.6 365.4L421.1 365.4L421.6 365.4L422.1 365.4L422.6 365.3L423.1 365.3L423.6 365.1L424.1 364.9L424.6 364.4L425.1 363.5L425.6 362.1L426.1 360.0L426.6 356.9L427.1 352.9L427.6 348.1L428.1 342.7L428.6 337.2L429.1 332.3L429.6 328.8L430.1 327.1L430.6 327.5L431.1 330.0L431.6 334.2L432.1 339.3L432.6 344.9L433.1 350.1L433.6 354.6L434.1 358.2L434.6 360.9L435.1 362.7L435.6 363.9L436.1 364.6L436.6 365.0L437.1 365.2L437.6 365.3L438.1 365.4L438.6 365.4L439.1 365.4L439.6 365.4L440.1 365.4L440.6 365.4L441.1 365.4L441.6 365.4L442.1 365.3L442.6 365.2L443.1 365.0L443.6 364.7L444.1 364.1L444.6 363.2L445.1 361.8L445.6 360.0L446.1 357.8L446.6 355.1L447.1 352.4L447.6 349.8L448.1 347.7L448.6 346.5L449.1 346.2L449.6 347.1L450.1 348.9L450.6 351.3L451.1 354.0L451.6 356.7L452.1 359.2L452.6 361.2L453.1 362.7L453.6 363.7L454.1 364.5L454.6 364.9L455.1 365.1L455.6 365.3L456.1 365.3L456.6 365.4L457.1 365.4L457.6 365.4L458.1 365.4L458.6 365.4L459.1 365.4L459.6 365.4L460.1 365.4L460.6 365.4L461.1 365.4L461.6 365.4L462.1 365.4L462.6 365.4L463.1 365.4L463.6 365.4L464.1 365.4L464.6 365.4L465.1 365.4L465.6 365.4L466.1 365.4L466.6 365.4L467.1 365.4L467.6 365.4L468.1 365.4L468.6 365.4L469.1 365.4L469.6 365.4L470.1 365.4L470.6 365.4L471.1 365.4L471.6 365.4L472.1 365.4L472.6 365.4L473.1 365.4L473.6 365.4L474.1 365.4L474.6 365.4L475.1 365.4L475.6 365.4L476.1 365.4L476.6 365.4L477.1 365.4L477.6 365.4L478.1 365.4L478.6 365.4L479.1 365.4L479.6 365.4L480.1 365.4L480.6 365.4L481.1 365.4L481.6 365.4L482.1 365.4L482.6 365.4L483.1 365.4L483.6 365.4L484.1 365.3L484.6 365.2L485.1 364.9L485.6 364.5L486.1 363.8L486.6 362.7L487.1 360.9L487.6 358.5L488.1 355.4L488.6 351.7L489.1 347.6L489.6 343.5L490.1 340.1L490.6 337.7L491.1 336.7L491.6 337.4L492.1 339.5L492.6 342.8L493.1 346.8L493.6 350.9L494.1 354.7L494.6 358.0L495.1 360.5L495.6 362.4L496.1 363.6L496.6 364.4L497.1 364.9L497.6 365.1L498.1 365.3L498.6 365.3L499.1 365.4L499.6 365.4L500.1 365.4L500.6 365.4L501.1 365.4L501.6 365.4L502.1 365.4L502.6 365.4L503.1 365.4L503.6 365.4L504.1 365.4L504.6 365.4L505.1 365.4L505.6 365.4L506.1 365.4L506.6 365.4L507.1 365.4L507.6 365.4L508.1 365.4L508.6 365.4L509.1 365.4L509.6 365.4L510.1 365.4L510.6 365.4" fill="none" stroke="#a8c0a6" stroke-width="0.8"/>
<path d="M288.6 365.4L289.1 365.4L289.6 365.4L290.1 365.4L290.6 365.3L291.1 365.2L291.6 365.0L292.1 364.6L292.6 363.9L293.1 362.8L293.6 361.1L294.1 358.6L294.6 355.3L295.1 351.1L295.6 346.5L296.1 341.7L296.6 337.3L297.1 333.9L297.6 332.0L298.1 332.0L298.6 333.9L299.1 337.3L299.6 341.7L300.1 346.5L300.6 351.1L301.1 355.2L301.6 358.6L302.1 361.0L302.6 362.7L303.1 363.7L303.6 364.1L304.1 364.0L304.6 363.3L305.1 362.0L305.6 360.0L306.1 357.1L306.6 353.4L307.1 348.9L307.6 344.0L308.1 339.2L308.6 335.0L309.1 332.2L309.6 331.0L310.1 331.8L310.6 334.3L311.1 338.3L311.6 343.0L312.1 348.0L312.6 352.6L313.1 356.5L313.6 359.5L314.1 361.8L314.6 363.3L315.1 364.2L315.6 364.8L316.1 365.1L316.6 365.3L317.1 365.3L317.6 365.4L318.1 365.4L318.6 365.4L319.1 365.4L319.6 365.3L320.1 365.2L320.6 365.0L321.1 364.6L321.6 363.9L322.1 362.9L322.6 361.3L323.1 359.1L323.6 356.2L324.1 352.8L324.6 349.0L325.1 345.3L325.6 342.1L326.1 339.9L326.6 339.0L327.1 339.6L327.6 341.6L328.1 344.6L328.6 348.2L329.1 352.0L329.6 355.6L330.1 358.6L330.6 360.9L331.1 362.6L331.6 363.8L332.1 364.5L332.6 364.9L333.1 365.2L333.6 365.3L334.1 365.4L334.6 365.4L335.1 365.4L335.6 365.4L336.1 365.4L336.6 365.4L337.1 365.4L337.6 365.4L338.1 365.4L338.6 365.4L339.1 365.4L339.6 365.4L340.1 365.4L340.6 365.4L341.1 365.4L341.6 365.4L342.1 365.4L342.6 365.4L343.1 365.4L343.6 365.4L344.1 365.4L344.6 365.4L345.1 365.4L345.6 365.4L346.1 365.4L346.6 365.4L347.1 365.4L347.6 365.4L348.1 365.4L348.6 365.4L349.1 365.4L349.6 365.4L350.1 365.4L350.6 365.4L351.1 365.4L351.6 365.4L352.1 365.4L352.6 365.4L353.1 365.4L353.6 365.4L354.1 365.4L354.6 365.4L355.1 365.4L355.6 365.4L356.1 365.4L356.6 365.4L357.1 365.4L357.6 365.4L358.1 365.4L358.6 365.4L359.1 365.4L359.6 365.4L360.1 365.4L360.6 365.4L361.1 365.4L361.6 365.4L362.1 365.4L362.6 365.4L363.1 365.4L363.6 365.4L364.1 365.4L364.6 365.4L365.1 365.4L365.6 365.4L366.1 365.4L366.6 365.4L367.1 365.4L367.6 365.4L368.1 365.4L368.6 365.4L369.1 365.4L369.6 365.4L370.1 365.4L370.6 365.4L371.1 365.4L371.6 365.4L372.1 365.4L372.6 365.4L373.1 365.4L373.6 365.4L374.1 365.4L374.6 365.4L375.1 365.4L375.6 365.4L376.1 365.4L376.6 365.4L377.1 365.4L377.6 365.4L378.1 365.4L378.6 365.4L379.1 365.4L379.6 365.4L380.1 365.4L380.6 365.4L381.1 365.4L381.6 365.4L382.1 365.4L382.6 365.4L383.1 365.4L383.6 365.4L384.1 365.4L384.6 365.4L385.1 365.4L385.6 365.4L386.1 365.4L386.6 365.4L387.1 365.4L387.6 365.4L388.1 365.4L388.6 365.4L389.1 365.4L389.6 365.4L390.1 365.4L390.6 365.4L391.1 365.4L391.6 365.4L392.1 365.4L392.6 365.3L393.1 365.3L393.6 365.1L394.1 364.9L394.6 364.5L395.1 363.8L395.6 362.9L396.1 361.6L396.6 360.1L397.1 358.2L397.6 356.3L398.1 354.5L398.6 353.1L399.1 352.2L399.6 352.0L400.1 352.6L400.6 353.9L401.1 355.6L401.6 357.5L402.1 359.4L402.6 361.0L403.1 362.4L403.6 363.4L404.1 364.1L404.6 364.3L405.1 364.3L405.6 363.7L406.1 362.7L406.6 360.9L407.1 358.3L407.6 354.8L408.1 350.3L408.6 345.1L409.1 339.7L409.6 334.6L410.1 330.5L410.6 328.0L411.1 327.6L411.6 329.3L412.1 332.8L412.6 337.6L413.1 343.0L413.6 348.3L414.1 353.1L414.6 357.0L415.1 360.0L415.6 362.1L416.1 363.5L416.6 364.4L417.1 364.9L417.6 365.1L418.1 365.3L418.6 365.4L419.1 365.4L419.6 365.4L420.1 365.4L420.6 365.4L421.1 365.4L421.6 365.4L422.1 365.4L422.6 365.4L423.1 365.4L423.6 365.4L424.1 365.4L424.6 365.4L425.1 365.4L425.6 365.4L426.1 365.4L426.6 365.4L427.1 365.4L427.6 365.4L428.1 365.4L428.6 365.4L429.1 365.4L429.6 365.4L430.1 365.4L430.6 365.4L431.1 365.4L431.6 365.4L432.1 365.3L432.6 365.3L433.1 365.1L433.6 364.8L434.1 364.2L434.6 363.3L435.1 361.9L435.6 359.8L436.1 357.0L436.6 353.5L437.1 349.4L437.6 345.1L438.1 341.1L438.6 337.9L439.1 335.9L439.6 335.6L440.1 336.9L440.6 339.7L441.1 343.4L441.6 347.7L442.1 351.9L442.6 355.7L443.1 358.8L443.6 361.2L444.1 362.8L444.6 363.9L445.1 364.6L445.6 365.0L446.1 365.2L446.6 365.3L447.1 365.4L447.6 365.4L448.1 365.4L448.6 365.4L449.1 365.4L449.6 365.4L450.1 365.4L450.6 365.4L451.1 365.3L451.6 365.2L452.1 364.9L452.6 364.5L453.1 363.7L453.6 362.5L454.1 360.6L454.6 358.0L455.1 354.7L455.6 350.7L456.1 346.3L456.6 342.0L457.1 338.3L457.6 335.7L458.1 334.7L458.6 335.4L459.1 337.7L459.6 341.2L460.1 345.5L460.6 349.9L461.1 354.0L461.6 357.4L462.1 360.2L462.6 362.1L463.1 363.4L463.6 364.2L464.1 364.5L464.6 364.5L465.1 364.1L465.6 363.3L466.1 361.9L466.6 359.9L467.1 357.2L467.6 353.7L468.1 349.7L468.6 345.5L469.1 341.6L469.6 338.4L470.1 336.5L470.6 336.2L471.1 337.5L471.6 340.2L472.1 343.9L472.6 348.1L473.1 352.2L473.6 355.9L474.1 358.9L474.6 361.2L475.1 362.9L475.6 364.0L476.1 364.6L476.6 365.0L477.1 365.2L477.6 365.3L478.1 365.4L478.6 365.4L479.1 365.4L479.6 365.4L480.1 365.4L480.6 365.4L481.1 365.4L481.6 365.4L482.1 365.4L482.6 365.4L483.1 365.4L483.6 365.4L484.1 365.4L484.6 365.4L485.1 365.4L485.6 365.4L486.1 365.4L486.6 365.4L487.1 365.4L487.6 365.4L488.1 365.4L488.6 365.4L489.1 365.4L489.6 365.4L490.1 365.4L490.6 365.4L491.1 365.4L491.6 365.4L492.1 365.4L492.6 365.3L493.1 365.3L493.6 365.1L494.1 364.8L494.6 364.2L495.1 363.3L495.6 361.8L496.1 359.5L496.6 356.5L497.1 352.6L497.6 348.0L498.1 343.0L498.6 338.3L499.1 334.3L499.6 331.8L500.1 331.0L500.6 332.2L501.1 335.0L501.6 339.2L502.1 344.0L502.6 348.9L503.1 353.4L503.6 357.1L504.1 359.9L504.6 361.7L505.1 362.8L505.6 363.0L506.1 362.6L506.6 361.4L507.1 359.4L507.6 356.8L508.1 353.5L508.6 349.8L509.1 346.0L509.6 342.7L510.1 340.2L510.6 339.1" fill="none" stroke="#8e8ed0" stroke-width="0.8"/>
<path d="M288.6 365.4L289.1 365.4L289.6 365.4L290.1 365.4L290.6 365.4L291.1 365.4L291.6 365.4L292.1 365.4L292.6 365.4L293.1 365.4L293.6 365.4L294.1 365.4L294.6 365.4L295.1 365.4L295.6 365.4L296.1 365.4L296.6 365.4L297.1 365.4L297.6 365.4L298.1 365.4L298.6 365.4L299.1 365.4L299.6 365.4L300.1 365.4L300.6 365.4L301.1 365.4L301.6 365.4L302.1 365.4L302.6 365.4L303.1 365.4L303.6 365.4L304.1 365.4L304.6 365.4L305.1 365.4L305.6 365.4L306.1 365.4L306.6 365.4L307.1 365.4L307.6 365.4L308.1 365.4L308.6 365.4L309.1 365.4L309.6 365.4L310.1 365.4L310.6 365.4L311.1 365.4L311.6 365.4L312.1 365.4L312.6 365.4L313.1 365.4L313.6 365.4L314.1 365.4L314.6 365.4L315.1 365.4L315.6 365.4L316.1 365.4L316.6 365.4L317.1 365.4L317.6 365.4L318.1 365.4L318.6 365.4L319.1 365.4L319.6 365.4L320.1 365.4L320.6 365.4L321.1 365.4L321.6 365.4L322.1 365.4L322.6 365.4L323.1 365.4L323.6 365.4L324.1 365.4L324.6 365.4L325.1 365.4L325.6 365.4L326.1 365.4L326.6 365.4L327.1 365.4L327.6 365.4L328.1 365.4L328.6 365.4L329.1 365.4L329.6 365.4L330.1 365.4L330.6 365.4L331.1 365.4L331.6 365.4L332.1 365.4L332.6 365.4L333.1 365.4L333.6 365.4L334.1 365.4L334.6 365.4L335.1 365.4L335.6 365.4L336.1 365.4L336.6 365.4L337.1 365.4L337.6 365.4L338.1 365.4L338.6 365.3L339.1 365.3L339.6 365.2L340.1 364.9L340.6 364.4L341.1 363.6L341.6 362.3L342.1 360.4L342.6 357.7L343.1 354.2L343.6 350.0L344.1 345.5L344.6 341.0L345.1 337.1L345.6 334.4L346.1 333.3L346.6 334.0L347.1 336.4L347.6 340.1L348.1 344.5L348.6 349.1L349.1 353.4L349.6 357.1L350.1 359.9L350.6 362.0L351.1 363.4L351.6 364.3L352.1 364.8L352.6 365.1L353.1 365.3L353.6 365.3L354.1 365.4L354.6 365.4L355.1 365.4L355.6 365.4L356.1 365.4L356.6 365.4L357.1 365.4L357.6 365.4L358.1 365.4L358.6 365.4L359.1 365.3L359.6 365.2L360.1 364.9L360.6 364.5L361.1 363.7L361.6 362.4L362.1 360.5L362.6 357.8L363.1 354.2L363.6 349.9L364.1 345.0L364.6 340.1L365.1 335.8L365.6 332.6L366.1 331.1L366.6 331.5L367.1 333.7L367.6 337.4L368.1 342.1L368.6 347.0L369.1 351.7L369.6 355.8L370.1 359.0L370.6 361.4L371.1 363.0L371.6 364.1L372.1 364.7L372.6 365.0L373.1 365.2L373.6 365.3L374.1 365.4L374.6 365.4L375.1 365.4L375.6 365.4L376.1 365.4L376.6 365.4L377.1 365.4L377.6 365.4L378.1 365.4L378.6 365.4L379.1 365.4L379.6 365.4L380.1 365.4L380.6 365.4L381.1 365.4L381.6 365.4L382.1 365.4L382.6 365.4L383.1 365.4L383.6 365.4L384.1 365.4L384.6 365.4L385.1 365.4L385.6 365.4L386.1 365.4L386.6 365.4L387.1 365.4L387.6 365.4L388.1 365.4L388.6 365.4L389.1 365.4L389.6 365.4L390.1 365.4L390.6 365.4L391.1 365.4L391.6 365.4L392.1 365.4L392.6 365.4L393.1 365.4L393.6 365.4L394.1 365.4L394.6 365.4L395.1 365.4L395.6 365.4L396.1 365.4L396.6 365.4L397.1 365.4L397.6 365.4L398.1 365.4L398.6 365.4L399.1 365.4L399.6 365.4L400.1 365.4L400.6 365.4L401.1 365.4L401.6 365.4L402.1 365.4L402.6 365.4L403.1 365.4L403.6 365.4L404.1 365.4L404.6 365.4L405.1 365.4L405.6 365.4L406.1 365.4L406.6 365.4L407.1 365.4L407.6 365.4L408.1 365.4L408.6 365.4L409.1 365.4L409.6 365.4L410.1 365.4L410.6 365.4L411.1 365.4L411.6 365.4L412.1 365.4L412.6 365.4L413.1 365.4L413.6 365.4L414.1 365.3L414.6 365.3L415.1 365.1L415.6 364.9L416.1 364.4L416.6 363.6L417.1 362.3L417.6 360.3L418.1 357.6L418.6 354.0L419.1 349.8L419.6 345.1L420.1 340.5L420.6 336.5L421.1 333.8L421.6 332.7L422.1 333.4L422.6 335.9L423.1 339.6L423.6 344.2L424.1 348.8L424.6 353.2L425.1 356.9L425.6 359.8L426.1 361.9L426.6 363.4L427.1 364.3L427.6 364.8L428.1 365.1L428.6 365.3L429.1 365.3L429.6 365.4L430.1 365.4L430.6 365.4L431.1 365.4L431.6 365.4L432.1 365.4L432.6 365.4L433.1 365.4L433.6 365.4L434.1 365.4L434.6 365.4L435.1 365.4L435.6 365.4L436.1 365.4L436.6 365.4L437.1 365.4L437.6 365.4L438.1 365.4L438.6 365.4L439.1 365.4L439.6 365.4L440.1 365.4L440.6 365.4L441.1 365.4L441.6 365.4L442.1 365.4L442.6 365.4L443.1 365.4L443.6 365.4L444.1 365.4L444.6 365.4L445.1 365.4L445.6 365.4L446.1 365.4L446.6 365.4L447.1 365.4L447.6 365.4L448.1 365.4L448.6 365.4L449.1 365.4L449.6 365.4L450.1 365.4L450.6 365.4L451.1 365.4L451.6 365.4L452.1 365.4L452.6 365.4L453.1 365.4L453.6 365.4L454.1 365.4L454.6 365.4L455.1 365.4L455.6 365.4L456.1 365.4L456.6 365.4L457.1 365.4L457.6 365.4L458.1 365.4L458.6 365.4L459.1 365.4L459.6 365.4L460.1 365.4L460.6 365.4L461.1 365.4L461.6 365.4L462.1 365.4L462.6 365.4L463.1 365.4L463.6 365.4L464.1 365.4L464.6 365.4L465.1 365.4L465.6 365.4L466.1 365.4L466.6 365.4L467.1 365.4L467.6 365.4L468.1 365.4L468.6 365.4L469.1 365.4L469.6 365.4L470.1 365.4L470.6 365.4L471.1 365.4L471.6 365.4L472.1 365.4L472.6 365.4L473.1 365.4L473.6 365.3L474.1 365.3L474.6 365.2L475.1 364.9L475.6 364.4L476.1 363.6L476.6 362.3L477.1 360.4L477.6 357.7L478.1 354.2L478.6 350.0L479.1 345.4L479.6 340.9L480.1 337.0L480.6 334.3L481.1 333.2L481.6 333.9L482.1 336.3L482.6 340.0L483.1 344.5L483.6 349.1L484.1 353.4L484.6 357.0L485.1 359.9L485.6 362.0L486.1 363.4L486.6 364.3L487.1 364.8L487.6 365.1L488.1 365.3L488.6 365.3L489.1 365.4L489.6 365.4L490.1 365.4L490.6 365.4L491.1 365.4L491.6 365.4L492.1 365.4L492.6 365.4L493.1 365.4L493.6 365.4L494.1 365.4L494.6 365.4L495.1 365.4L495.6 365.4L496.1 365.4L496.6 365.4L497.1 365.4L497.6 365.4L498.1 365.4L498.6 365.4L499.1 365.4L499.6 365.4L500.1 365.4L500.6 365.4L501.1 365.4L501.6 365.4L502.1 365.4L502.6 365.4L503.1 365.4L503.6 365.4L504.1 365.4L504.6 365.4L505.1 365.4L505.6 365.4L506.1 365.4L506.6 365.4L507.1 365.4L507.6 365.4L508.1 365.4L508.6 365.4L509.1 365.4L509.6 365.4L510.1 365.4L510.6 365.4" fill="none" stroke="#dc9898" stroke-width="0.8"/>
<path d="M288.65 365.59999999999997H511.1" stroke="#6a6a6a" stroke-width="0.7"/>
<path d="M288.65 367.7H511.1" stroke="#f0cccc" stroke-width="0.6"/>
</g>
<rect x="287.65" y="292.5" width="224.45000000000005" height="78.80000000000001" fill="none" stroke="#000" stroke-width="1.5"/>
<rect x="0.5" y="0.5" width="518.6" height="377.6" fill="none" stroke="#000" stroke-width="1.6"/>
</svg>
</body></html>
